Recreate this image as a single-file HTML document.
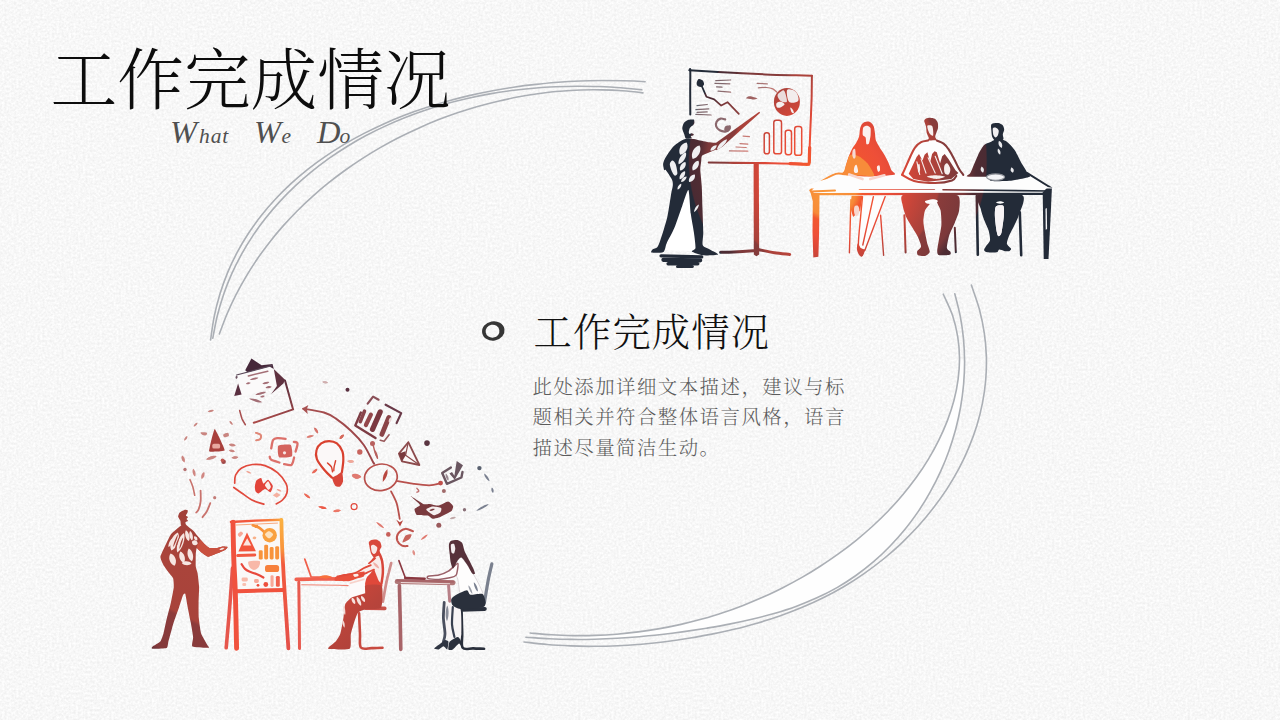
<!DOCTYPE html>
<html lang="zh-CN">
<head>
<meta charset="utf-8">
<title>工作完成情况</title>
<style>
html,body{margin:0;padding:0;}
body{width:1280px;height:720px;overflow:hidden;background:#f6f6f6;position:relative;
 font-family:"Liberation Serif","Noto Serif CJK SC",serif;}
.bg{position:absolute;left:0;top:0;width:1280px;height:720px;}
.art{position:absolute;left:0;top:0;width:1280px;height:720px;}
.title{position:absolute;left:50.5px;top:34px;margin:0;font-size:66.7px;line-height:96px;font-weight:300;color:#0d0d0d;white-space:nowrap;letter-spacing:0px;}
.sub{position:absolute;left:0;top:112px;width:400px;height:40px;margin:0;font-size:21.5px;line-height:40px;font-style:italic;font-weight:400;color:#505050;white-space:nowrap;letter-spacing:0.9px;}
.sub span{position:absolute;top:0;}
.sub b{font-weight:400;font-size:32.5px;display:inline-block;letter-spacing:0;}
.h2{position:absolute;left:533.5px;top:303.5px;margin:0;font-size:38.3px;line-height:58px;font-weight:300;color:#111;white-space:nowrap;letter-spacing:1.15px;}
.body{position:absolute;left:532.5px;top:372.5px;width:330px;margin:0;font-size:19.4px;line-height:30.5px;font-weight:300;color:#5c5c5c;letter-spacing:1.5px;}
</style>
</head>
<body>
<svg class="bg" width="1280" height="720" viewBox="0 0 1280 720">
<defs>
<filter id="paper" x="0" y="0" width="100%" height="100%" color-interpolation-filters="sRGB">
<feTurbulence type="fractalNoise" baseFrequency="0.42" numOctaves="2" seed="11" result="n"/>
<feColorMatrix type="matrix" values="0.1 0 0 0 0.92  0.1 0 0 0 0.92  0.1 0 0 0 0.92  0 0 0 0 1"/>
</filter>
</defs>
<rect width="1280" height="720" fill="#f7f7f7"/>
<rect width="1280" height="720" filter="url(#paper)"/>
</svg>
<svg class="art" width="1280" height="720" viewBox="0 0 1280 720">
<g fill="none" stroke="#abafb5" stroke-width="1.6" stroke-linecap="round">
<path fill="#fefefe" stroke="none" d="M959.5 358C959.3 361.6 959 372.2 958.1 379.3C957.2 386.3 955.8 393.3 954 400.2C952.2 407 949.9 413.9 947.4 420.6C944.8 427.3 941.9 433.9 938.7 440.3C935.5 446.8 932 453.1 928.3 459.3C924.6 465.4 920.6 471.4 916.4 477.3C912.1 483.2 907.7 488.9 903 494.4C898.4 500 893.5 505.4 888.5 510.7C883.4 515.9 878.2 521 872.8 526C867.4 530.9 861.8 535.7 856.2 540.3C850.5 544.9 844.6 549.4 838.7 553.7C832.8 557.9 826.8 562.1 820.6 566C814.5 570 808.3 573.8 802 577.4C795.7 581 789.3 584.4 782.8 587.7C776.4 591 769.8 594.1 763.2 597.1C756.6 600 749.9 602.8 743.1 605.4C736.4 608 729.6 610.5 722.7 612.7C715.9 615 708.9 617.1 702 619.1C695 621 688 622.8 681 624.4C673.9 626 666.8 627.4 659.7 628.6C652.6 629.9 645.5 631 638.3 631.9C631.1 632.8 623.9 633.6 616.7 634.2C609.5 634.8 598.7 635.2 595.1 635.4L572.1 639.4C575.9 639.4 587.2 639.4 594.7 639.2C602.2 639.1 609.6 638.8 617.1 638.3C624.5 637.9 631.9 637.4 639.4 636.7C646.8 636.1 654.2 635.3 661.6 634.5C669.1 633.6 676.5 632.6 684 631.6C691.5 630.5 699 629.4 706.5 628.2C714 626.9 721.6 625.6 729.2 624.1C736.7 622.7 744.3 621.1 751.8 619.3C759.2 617.5 766.7 615.6 774.1 613.5C781.4 611.3 788.7 609 795.9 606.4C803 603.8 810 600.9 816.9 597.8C823.8 594.7 830.5 591.3 837 587.6C843.5 583.9 849.8 579.8 855.9 575.5C862 571.2 867.9 566.6 873.6 561.7C879.3 556.9 884.7 551.7 889.9 546.3C895.1 540.9 900.1 535.3 904.8 529.5C909.6 523.7 914 517.6 918.3 511.4C922.5 505.1 926.5 498.7 930.1 492.1C933.8 485.5 937.3 478.8 940.4 471.9C943.5 465 946.4 458 948.9 450.9C951.5 443.7 953.7 436.5 955.7 429.2C957.6 421.8 959.3 414.4 960.6 407C961.9 399.5 962.9 392 963.6 384.4C964.2 376.9 964.4 365.5 964.6 361.7Z"/>
<path d="M645.1 81.7C641.5 81.5 631 81 623.8 80.8C616.7 80.6 609.5 80.5 602.2 80.5C595 80.6 587.6 80.7 580.3 81C572.9 81.3 565.5 81.7 558.1 82.3C550.7 82.9 543.3 83.5 535.9 84.4C528.4 85.2 521 86.1 513.5 87.2C506.1 88.3 498.7 89.6 491.3 91C483.9 92.4 476.5 93.9 469.1 95.6C461.8 97.3 454.5 99.2 447.2 101.2C440 103.2 432.7 105.4 425.6 107.8C418.5 110.1 411.4 112.6 404.4 115.3C397.4 118 390.5 120.9 383.7 123.9C376.9 127 370.2 130.2 363.6 133.6C357 137 350.5 140.6 344.1 144.4C337.8 148.2 331.5 152.2 325.5 156.4C319.4 160.5 313.5 164.9 307.7 169.4C302 174 296.4 178.7 291 183.7C285.7 188.6 280.5 193.7 275.5 199C270.5 204.4 265.8 209.9 261.3 215.6C256.8 221.3 252.5 227.2 248.5 233.3C244.5 239.4 240.7 245.7 237.3 252.2C233.8 258.7 230.6 265.4 227.7 272.4C224.9 279.3 222.3 286.4 220 293.7C217.8 301 215.8 308.5 214.3 316.2C212.7 323.9 211.2 336 210.6 339.9"/>
<path d="M641.8 89.8C638.3 89.4 627.7 88.3 620.6 87.7C613.5 87.2 606.3 86.8 599.1 86.5C591.9 86.3 584.6 86.1 577.3 86.2C570.1 86.2 562.8 86.4 555.5 86.7C548.2 87 540.9 87.5 533.6 88.2C526.3 88.8 518.9 89.6 511.7 90.5C504.4 91.5 497.1 92.6 489.9 93.9C482.6 95.2 475.4 96.6 468.3 98.2C461.1 99.8 454 101.6 446.9 103.6C439.8 105.5 432.8 107.7 425.9 110C418.9 112.3 412.1 114.8 405.3 117.5C398.5 120.2 391.8 123 385.2 126.1C378.5 129.1 372 132.4 365.6 135.8C359.2 139.2 352.9 142.9 346.7 146.7C340.5 150.5 334.5 154.5 328.6 158.7C322.7 163 316.9 167.4 311.3 171.9C305.7 176.5 300.2 181.3 295 186.2C289.7 191.2 284.6 196.3 279.7 201.6C274.8 206.9 270.1 212.4 265.7 218.1C261.2 223.8 256.9 229.6 252.9 235.6C248.9 241.6 245.1 247.8 241.6 254.1C238.1 260.5 234.8 267 231.8 273.7C228.9 280.4 226.1 287.2 223.7 294.2C221.3 301.2 219.1 308.4 217.3 315.7C215.5 323 213.5 334.4 212.8 338.1"/>
<path d="M642.9 92.9C639.5 92.5 629.3 91.3 622.5 90.8C615.6 90.3 608.8 90 601.9 89.9C595 89.7 588.1 89.8 581.1 90C574.2 90.3 567.3 90.7 560.3 91.3C553.4 91.8 546.5 92.6 539.5 93.5C532.6 94.5 525.7 95.6 518.8 96.8C511.9 98.1 505 99.6 498.1 101.2C491.3 102.8 484.4 104.6 477.6 106.5C470.9 108.5 464.1 110.6 457.4 112.8C450.7 115.1 444.1 117.5 437.5 120.1C430.9 122.7 424.4 125.5 418 128.4C411.5 131.3 405.1 134.3 398.9 137.5C392.6 140.7 386.4 144.1 380.2 147.6C374.1 151.1 368.1 154.8 362.2 158.6C356.3 162.4 350.5 166.4 344.8 170.5C339.1 174.6 333.5 178.8 328.1 183.2C322.6 187.6 317.3 192.1 312.1 196.8C306.9 201.4 301.8 206.2 296.9 211.2C292 216.1 287.3 221.2 282.7 226.4C278.1 231.6 273.6 237 269.4 242.4C265.1 247.9 261 253.5 257.1 259.2C253.2 265 249.4 270.8 245.9 276.8C242.3 282.8 239 288.9 235.8 295.1C232.6 301.3 229.7 307.7 226.9 314.2C224.2 320.6 220.6 330.6 219.4 333.9"/>
<path d="M943.3 294.2C944.8 297.7 950.1 308.2 952.5 315.3C954.9 322.4 956.5 329.5 957.7 336.7C958.9 343.8 959.4 350.9 959.5 358C959.6 365.1 959 372.2 958.1 379.3C957.2 386.3 955.8 393.3 954 400.2C952.2 407 949.9 413.9 947.4 420.6C944.8 427.3 941.9 433.9 938.7 440.3C935.5 446.8 932 453.1 928.3 459.3C924.6 465.4 920.6 471.4 916.4 477.3C912.1 483.2 907.7 488.9 903 494.4C898.4 500 893.5 505.4 888.5 510.7C883.4 515.9 878.2 521 872.8 526C867.4 530.9 861.8 535.7 856.2 540.3C850.5 544.9 844.6 549.4 838.7 553.7C832.8 557.9 826.8 562.1 820.6 566C814.5 570 808.3 573.8 802 577.4C795.7 581 789.3 584.4 782.8 587.7C776.4 591 769.8 594.1 763.2 597.1C756.6 600 749.9 602.8 743.1 605.4C736.4 608 729.6 610.5 722.7 612.7C715.9 615 708.9 617.1 702 619.1C695 621 688 622.8 681 624.4C673.9 626 666.8 627.4 659.7 628.6C652.6 629.9 645.5 631 638.3 631.9C631.1 632.8 623.9 633.6 616.7 634.2C609.5 634.8 602.3 635.2 595.1 635.4C587.9 635.7 580.6 635.7 573.4 635.6C566.2 635.5 558.9 635.3 551.7 634.8C544.5 634.4 533.7 633.3 530.1 633"/>
<path d="M954.8 293.8C955.7 297.6 958.8 308.7 960.2 316.2C961.7 323.7 962.7 331.3 963.5 338.9C964.2 346.5 964.5 354.1 964.6 361.7C964.6 369.3 964.2 376.9 963.6 384.4C962.9 392 961.9 399.5 960.6 407C959.3 414.4 957.6 421.8 955.7 429.2C953.7 436.5 951.5 443.7 948.9 450.9C946.4 458 943.5 465 940.4 471.9C937.3 478.8 933.8 485.5 930.1 492.1C926.5 498.7 922.5 505.1 918.3 511.4C914 517.6 909.6 523.7 904.8 529.5C900.1 535.3 895.1 540.9 889.9 546.3C884.7 551.7 879.3 556.9 873.6 561.7C867.9 566.6 862 571.2 855.9 575.5C849.8 579.8 843.5 583.9 837 587.6C830.5 591.3 823.8 594.7 816.9 597.8C810 600.9 803 603.8 795.9 606.4C788.7 609 781.4 611.3 774.1 613.5C766.7 615.6 759.2 617.5 751.8 619.3C744.3 621.1 736.7 622.7 729.2 624.1C721.6 625.6 714 626.9 706.5 628.2C699 629.4 691.5 630.5 684 631.6C676.5 632.6 669.1 633.6 661.6 634.5C654.2 635.3 646.8 636.1 639.4 636.7C631.9 637.4 624.5 637.9 617.1 638.3C609.6 638.8 602.2 639.1 594.7 639.2C587.2 639.4 579.7 639.5 572.1 639.4C564.5 639.3 556.9 639.1 549.2 638.7C541.5 638.4 529.8 637.4 525.9 637.2"/>
<path d="M971.4 285.1C972.7 289.2 977.2 301.2 979.4 309.2C981.5 317.2 983.2 325.2 984.3 333.2C985.5 341.1 986.1 349.1 986.4 356.9C986.6 364.8 986.3 372.6 985.7 380.3C985 388.1 983.9 395.8 982.4 403.3C980.9 410.9 979 418.4 976.8 425.8C974.5 433.2 971.8 440.4 968.8 447.6C965.9 454.7 962.5 461.8 958.9 468.6C955.2 475.5 951.2 482.3 947 488.9C942.7 495.4 938.1 501.9 933.3 508.1C928.5 514.3 923.4 520.4 918.1 526.3C912.7 532.1 907.1 537.8 901.4 543.3C895.6 548.7 889.6 554 883.5 559C877.3 564 870.9 568.8 864.4 573.3C857.9 577.9 851.3 582.2 844.5 586.2C837.7 590.2 830.8 594 823.7 597.5C816.7 601 809.6 604.2 802.3 607.3C795.1 610.3 787.8 613.1 780.4 615.7C773 618.3 765.4 620.7 757.9 622.9C750.3 625.1 742.7 627.2 735 629C727.4 630.9 719.7 632.6 711.9 634.1C704.2 635.7 696.4 637 688.6 638.3C680.8 639.6 672.9 640.7 665.1 641.7C657.3 642.7 649.4 643.5 641.6 644.2C633.7 644.8 625.8 645.4 618 645.7C610.1 646.1 602.2 646.3 594.4 646.3C586.5 646.4 578.7 646.3 570.8 645.9C563 645.6 555.2 645.2 547.4 644.5C539.6 643.8 527.9 642.4 524 642"/>
</g>

<path fill="#363636" fill-rule="evenodd" transform="rotate(-10 493.2 331)" d="M482.0 331.0A11.3 9.7 0 1 0 504.6 331.0A11.3 9.7 0 1 0 482.0 331.0ZM485.6 331.1A6.9 6.5 0 1 0 499.4 331.1A6.9 6.5 0 1 0 485.6 331.1Z"/>
<defs>
<radialGradient id="gt" gradientUnits="userSpaceOnUse" cx="838" cy="160" r="152" fx="828" fy="197">
<stop offset="0" stop-color="#f9993c"/>
<stop offset="0.17" stop-color="#f78a38"/>
<stop offset="0.215" stop-color="#f2572f"/>
<stop offset="0.35" stop-color="#ee4f38"/>
<stop offset="0.45" stop-color="#de4837"/>
<stop offset="0.55" stop-color="#c4453a"/>
<stop offset="0.64" stop-color="#b0433b"/>
<stop offset="0.69" stop-color="#a8413a"/>
<stop offset="0.705" stop-color="#8a3c3b"/>
<stop offset="0.85" stop-color="#7c393a"/>
<stop offset="0.89" stop-color="#5f3136"/>
<stop offset="0.915" stop-color="#4f2c33"/>
<stop offset="0.975" stop-color="#4b2b33"/>
<stop offset="0.985" stop-color="#232b38"/>
<stop offset="1" stop-color="#232b38"/>
</radialGradient>
</defs>
<g id="top-illu" fill="url(#gt)" stroke="none">
<g fill="none" stroke="url(#gt)" stroke-width="2" stroke-linecap="round" stroke-linejoin="round">
<path d="M690.3 114.4C690.3 110.5 690.2 98.5 690.2 91.2C690.2 84 690.4 74.1 690.3 70.6C690.2 67.1 689.8 70.4 689.7 70.3"/>
<path d="M689.4 70.3C694.2 70.6 705.5 71.2 718.1 71.9C730.7 72.6 752 73.8 765 74.4C778 74.9 788.4 75.1 796.2 75.3C804.1 75.5 809.3 75.7 811.9 75.8"/>
<path d="M811.9 75.8C811.8 79.7 811.8 90 811.6 99.1C811.3 108.2 810.7 121.2 810.3 130.3C809.9 139.4 809.6 148.1 809.4 153.8C809.2 159.4 809.1 162.6 809.1 164.4"/>
<path stroke-width="2.2" d="M708.8 162.5C712.9 162.6 724.4 162.7 733.8 162.8C743.1 162.9 754.6 163 765 163.1C775.4 163.3 788.9 163.5 796.2 163.8C803.6 164 806.9 164.3 809.1 164.4"/>
<path stroke-width="3.2" d="M809.7 147.5C809.6 149.1 809.5 154.2 809.4 156.9C809.2 159.6 809.9 162.6 808.8 163.8C807.6 164.9 805.6 164.1 802.5 164.1C799.4 164 792.1 163.7 790 163.6"/>
<path stroke-width="1.7" d="M701.7 85.8L706.4 96.7L714.2 99.4L721.2 105.6L727.5 102.2L738.8 113.9"/>
</g>
<path d="M696.6 83.4C696.6 82.2 697.6 79.6 698.6 79.1C699.6 78.5 701.6 79.5 702.5 80.3C703.4 81.2 704.2 83.1 704.1 84.2C703.9 85.3 702.7 86.5 701.7 86.9C700.7 87.2 699 86.8 698.1 86.2C697.3 85.7 696.5 84.6 696.6 83.4Z"/>
<g fill="none" stroke="url(#gt)" stroke-width="1.25" stroke-linecap="round" opacity="0.7">
<path d="M715.8 80.6L730.6 80"/>
<path d="M715 83.4L729.8 83.8"/>
<path d="M716.6 86.9L722 87.2"/>
<path d="M718.1 91.2L730.6 92.2"/>
<path d="M697 105.6L707.2 104.5"/>
<path d="M695.9 109.7L708.8 108.8"/>
<path d="M695.9 114.4L711.1 115"/>
<path d="M697 112.3L707.2 111.9"/>
<path d="M757.2 83.4L767.3 83.9"/>
<path d="M743.1 136.1L749.4 136.6"/>
<path d="M740 143.6L747.8 144.1"/>
<path d="M736.1 147L746.2 147.5"/>
<path d="M729.4 150.9L747.8 151.2"/>
<path d="M758.3 87.8C759.7 87.8 764.1 87.3 766.6 87.5C769 87.7 771.1 88.2 772.8 88.9C774.5 89.7 776.1 91.5 776.7 92"/>
</g>
<path opacity="0.8" d="M746.2 98.3C745.7 97.8 748.1 96.4 749.4 96.2C750.7 96.1 752.7 96.8 754.1 97.2C755.4 97.6 757.8 98.1 757.5 98.4C757.2 98.8 754.4 99.4 752.5 99.4C750.6 99.3 746.8 98.8 746.2 98.3Z"/>
<path fill="none" stroke="#8b686d" stroke-width="2.2" stroke-linecap="round" d="M725.2 119.4C724.4 119.2 721.9 118.2 720.5 118.6C719 119 717.3 120.4 716.6 121.7C715.9 123 715.7 125 716.2 126.4C716.8 127.8 718.2 129.5 719.7 130.3C721.2 131.2 723.6 131.7 725.2 131.6C726.7 131.4 728.3 130.4 729.1 129.5C729.8 128.7 729.7 126.9 729.8 126.4"/>
<path fill="#8b686d" d="M725.2 126.4C725.9 125.6 728.2 125.2 729.1 125.6C730 126 730.9 127.7 730.6 128.8C730.4 129.8 728.5 131.6 727.5 131.9C726.5 132.2 724.8 131.5 724.4 130.6C724 129.7 724.4 127.2 725.2 126.4Z"/>
<ellipse cx="786.9" cy="101.9" rx="13" ry="14" fill="url(#gt)"/>
<path fill="#eadcdc" d="M777.5 95.2C777.6 93.5 780.2 91.9 781.4 91.2C782.6 90.6 783.6 89.6 784.5 91.2C785.4 92.9 787.5 99.8 786.9 101.4C786.2 103 782.2 102 780.6 100.9C779.1 99.9 777.4 96.8 777.5 95.2Z"/>
<path fill="#f3eded" d="M786.9 90.5C787.4 88.4 790.7 89.2 792.3 89.7C794 90.2 796.1 91.7 797 93.6C798 95.5 799.4 99.6 798.1 100.9C796.8 102.3 791.1 103.6 789.2 101.9C787.3 100.1 786.4 92.5 786.9 90.5Z"/>
<path fill="#f5f0f0" d="M776.7 103C777.5 102.1 780.1 101.6 781.4 101.9C782.7 102.1 784.8 103.6 784.5 104.5C784.3 105.5 781.1 107.3 779.8 107.7C778.5 108 777.2 107.7 776.7 106.9C776.2 106.1 775.9 103.8 776.7 103Z"/>
<path fill="#f5f0f0" d="M790.3 107.7C790.5 107.2 792.2 108.8 792.8 109.7C793.4 110.6 794.1 112.7 793.9 113.1C793.7 113.6 792.2 113.3 791.6 112.3C791 111.4 790.1 108.1 790.3 107.7Z"/>
<g fill="none" stroke="url(#gt)" stroke-width="1.5" stroke-linejoin="round">
<rect x="764.2" y="132.7" width="5.2" height="21.1" rx="2.4"/>
<rect x="773.8" y="120.2" width="7.7" height="33.6" rx="2.4"/>
<rect x="785.3" y="130.3" width="6.2" height="24.4" rx="2.4"/>
<rect x="794.7" y="126.4" width="7" height="28.9" rx="2.4"/>
</g>
<path d="M753.6 163.8L758.8 163.8L759.2 254.4L756.4 256.2L753.8 254.4Z"/>
<path fill="none" stroke="url(#gt)" stroke-width="3" stroke-linecap="round" d="M720.6 252.3C722.8 252.3 728.3 252.1 733.8 251.9C739.2 251.6 750 251 753.3 250.8"/>
<path fill="none" stroke="url(#gt)" stroke-width="3" stroke-linecap="round" d="M759.1 249.7C761.6 250.2 769.3 252 774.4 252.8C779.5 253.6 787.1 254.1 789.7 254.4"/>
<path fill="#ffffff" d="M688.4 190.3L682.2 205.9L674.4 227.8L666.6 243.4L663.4 250L692.3 250.9L695.5 248.1L693.9 232.5L690.8 213.8Z"/>
<g fill="none" stroke="url(#gt)" stroke-linecap="round">
<path stroke-width="3.4" d="M661.1 255.9L701.7 256.9"/>
<path stroke-width="4.2" d="M663.4 259.8L700.2 260.3"/>
<path stroke-width="3.4" d="M668.1 263.8L697.8 263.8"/>
<path stroke-width="3" d="M677.5 266.6L692.3 266.6"/>
</g>
<path d="M682.3 127.7C682.4 126.8 683.1 123.8 683.9 122.9C684.6 122 687.4 120.2 688.5 119.8C689.7 119.4 693.1 119.2 693.8 119.6C694.4 119.9 694.4 122.3 694.4 122.9C694.3 123.6 693.5 124.8 693.1 125.2C692.8 125.6 691.9 125.9 691.5 126.2C691 126.6 689.9 127.8 689.6 128.5C689.3 129.2 688.8 131.6 688.8 132.2C688.8 132.8 689.2 133.8 689.6 134C689.9 134.1 691.4 133.3 691.9 133.3C692.4 133.4 693.6 134.1 693.8 134.4C693.9 134.6 693.3 135.4 692.9 135.6C692.6 135.8 691 135.9 690.8 136.2C690.7 136.6 692.2 138.1 691.7 138.3C691.1 138.6 686.8 139.1 685.9 138.6C685.1 138.2 684.7 135.7 684.4 134.8C684 133.9 683.1 131.5 682.8 130.6C682.6 129.8 682.2 128.6 682.3 127.7Z"/>
<path d="M685.3 139.1C683.6 139.4 680.4 141.2 679.1 142C677.7 142.9 674.8 145.1 673.6 146.2C672.4 147.4 669.9 150.8 668.9 152.2C667.9 153.6 665.7 157.1 665 158.4C664.3 159.8 663.2 162.5 663.1 163.9C663 165.3 663.9 169.4 664.2 170.2C664.5 170.9 664.9 168.9 665.8 170C666.7 171.1 671.2 177.9 672 179.7C672.9 181.5 672.9 184 672.8 185.6C672.7 187.2 671.9 189.8 671.2 193.4C670.6 197.1 668.6 211.4 667.3 216.9C666.1 222.3 661.5 236.8 660.3 240.3C659.1 243.9 658.1 246.3 657.2 247.3C656.3 248.4 653.2 248.8 652.5 249.4C651.8 250 650.3 252.2 651.6 252.5C652.8 252.8 661.7 252.9 663.4 251.9C665.2 250.8 665.3 246.2 666.6 243.4C667.8 240.6 672.6 232.2 674.4 227.8C676.2 223.4 680.5 210.3 682.2 205.9C683.8 201.5 687.4 189.1 688.4 190C689.4 190.9 690.1 208.8 690.8 213.8C691.4 218.7 693.4 228.5 693.9 232.5C694.5 236.5 695.7 245.9 695.5 248.1C695.2 250.3 691.1 250.7 691.9 251.6C692.7 252.4 699.4 255 702.5 255.3C705.6 255.7 717.2 255.2 718.1 254.5C719 253.9 712.1 250.8 710.3 249.7C708.5 248.6 703.6 247.3 702.8 245.3C702 243.3 703.3 236.7 703.3 232.5C703.2 228.3 702.7 214.5 702.5 209.1C702.3 203.6 702 190.2 701.7 185.6C701.5 181.1 700.4 172.8 700.3 170C700.3 167.2 701 163.2 701.2 161.6C701.5 159.9 701.1 156.8 702.2 155.6C703.2 154.5 708.6 152.6 710.3 151.9C712 151.1 715.9 150 716.9 149.1C717.9 148.1 720 144.4 718.9 143.6C717.8 142.8 709.4 142.4 707.2 142C705 141.7 701.7 141 700.2 140.6C698.6 140.3 695.6 139.2 693.9 139.1C692.2 138.9 687 138.7 685.3 139.1Z"/>
<path d="M714.7 143.8L759.2 111.7L760.2 112.7L722 146.9L716.2 150.3Z"/>
<path fill="#efeff1" d="M680.2 154.8C685.7 154.2 689.3 147.4 686.7 142.5C681.1 143 677.5 149.9 680.2 154.8Z"/>
<path fill="#efeff1" d="M678.6 164.2C683 163.3 687.1 156.8 686 152.5C681.7 153.3 677.6 159.9 678.6 164.2Z"/>
<path fill="#efeff1" d="M680.2 170.4C683.9 170.1 686.9 165.3 685.4 161.9C681.7 162.2 678.8 167 680.2 170.4Z"/>
<path fill="#efeff1" d="M679.7 179.2C683 178.9 686 174.5 685 171.2C681.7 171.5 678.7 176 679.7 179.2Z"/>
<path fill="#efeff1" d="M681.2 181.9C683.8 182.1 686.8 179 686.5 176.5C683.9 176.3 680.9 179.3 681.2 181.9Z"/>
<path fill="#efeff1" d="M677.6 189.6C679.8 189.2 681.8 185.9 681.2 183.8C679.1 184.2 677 187.4 677.6 189.6Z"/>
<path fill="#efeff1" d="M692.7 159C698.3 158.1 702.2 150.7 699.6 145.6C694 146.4 690.1 153.9 692.7 159Z"/>
<path fill="#efeff1" d="M692.7 170.4C696.9 170.1 700.2 164.7 698.5 160.8C694.3 161.2 691.1 166.5 692.7 170.4Z"/>
<path fill="#efeff1" d="M689.1 181.9C692.7 182.1 695.9 177.9 694.8 174.4C691.1 174.2 687.9 178.4 689.1 181.9Z"/>
<path fill="#efeff1" d="M710.4 150.6C713.2 151.1 716.7 148.1 716.7 145.2C713.8 144.7 710.3 147.8 710.4 150.6Z"/>
<path fill="#efeff1" d="M716.9 149.4C720.8 148.8 726.5 143.1 727.1 139.2C723.1 139.7 717.4 145.4 716.9 149.4Z"/>
<path fill="#efeff1" d="M669.8 164C669.9 162.7 671.6 160.6 672.4 160.6C673.2 160.6 675 162.3 675.6 164C676.3 165.7 677.5 171.8 677.4 173.3C677.3 174.9 675.4 176 674.6 175.6C673.8 175.2 672 171.8 671.4 170.2C670.7 168.7 669.7 165.2 669.8 164Z"/>
<path fill="#efeff1" d="M694.1 211.9C696.3 211 699 206.8 698.8 204.4C696.5 205.2 693.9 209.4 694.1 211.9Z"/>
<path fill="#fdfdfd" d="M810 190.5L836 174L1027 173L1051 188L1048 193.5L813 194Z"/>
<g fill="none" stroke="url(#gt)" stroke-linecap="round" stroke-linejoin="round">
<path stroke-width="2" d="M810.3 190.6C811.5 189.5 812.9 186.8 817.2 184.1C821.5 181.3 831 175.3 835.9 173.9C840.9 172.5 845.1 175.3 846.9 175.6"/>
<path stroke-width="1.6" d="M859.4 189L934.4 189"/>
<path stroke-width="1.6" d="M943 189.8L1049 191"/>
<path stroke-width="2" d="M811 191.5L835 190.5"/>
<path stroke-width="2.2" d="M814 194.2L1046 193.8"/>
<path stroke-width="2" d="M1027.3 173.1L1051.2 188"/>
</g>
<path d="M809.7 189.5L814.8 193.4L819.5 194.7L819.1 232.5L818.4 256.7L813.3 257.5L812.5 232.5L812.8 201.2Z"/>
<path d="M1042.7 192.5L1049.1 185.5L1051.9 188.3L1050.8 212.2L1048.5 258.9L1043.7 258.9L1043.2 226.3Z"/>
<path fill="#f3f3f5" d="M1045.5 208.7L1046.8 208L1047.1 229.1L1045.7 229.8Z"/>
<path d="M867.2 121.6C866 121.6 863.4 122.6 862.5 123.4C861.6 124.3 860.6 126.4 860.2 128.1C859.7 129.9 859.6 134.6 859.1 136.6C858.5 138.5 857.1 141.2 856.2 142.8C855.4 144.4 853.3 146.8 852.3 148.4C851.4 150.1 850 153.4 849.2 155.3C848.4 157.3 847.2 161.1 846.6 163.1C845.9 165.1 844.9 168.7 844.5 170.2C844.1 171.7 840.4 173.5 843.4 174.4C846.5 175.2 860.4 176.4 867.2 176.4C873.9 176.4 890.8 175.5 894.1 174.7C897.3 173.9 892.2 171.8 891.4 170.2C890.6 168.5 889.2 164.4 888.3 162.3C887.3 160.3 885.5 156.7 884.4 154.7C883.2 152.7 880.8 149.4 879.7 147.5C878.6 145.6 876.6 142.5 875.9 140.6C875.3 138.8 875.3 135.3 875 133.4C874.7 131.6 874.3 128 873.8 126.6C873.2 125.1 872 123.5 871.1 122.8C870.2 122.1 868.3 121.5 867.2 121.6Z"/>
<path fill="#f78c3a" d="M849.5 155.6C850.4 154.6 852.7 154.4 853.9 154.5C855.1 154.7 858.6 155.9 860.2 156.9C861.7 157.9 865.7 161.3 867.2 163.1C868.7 164.9 872.4 171 873.1 172.5C873.9 174 875 175.9 873.4 176.2C871.8 176.6 862.8 175.9 859.4 175.6C855.9 175.4 845.4 174.9 843.8 174.2C842.1 173.6 844.5 171.5 844.8 170.2C845.2 168.9 846.2 164.8 846.7 163.1C847.3 161.4 848.7 156.6 849.5 155.6Z"/>
<path fill="#fbf1ef" d="M863.3 127.5C863.9 126.3 866.2 125.7 867.2 125.8C868.1 125.9 870 126.9 870.5 128.1C870.9 129.4 870.7 133.3 870.6 135C870.5 136.7 869.9 139.5 869.7 140.6C869.4 141.8 869.2 143.3 868.8 143.8C868.3 144.2 866.8 144.9 866.4 144.1C866 143.2 866.1 138.7 865.6 137.5C865.1 136.3 863.1 136.3 862.8 135C862.5 133.7 862.7 128.7 863.3 127.5Z"/>
<path fill="#f6d9d3" d="M852.8 150.3C853.3 149.3 854.5 148 855 149.1C855.5 150.1 855.8 154.9 855.6 156.6C855.4 158.2 854.5 159 853.9 158.8C853.4 158.5 852.5 156.7 852.3 155.3C852.2 153.9 852.4 151.4 852.8 150.3Z"/>
<path fill="#fbf1ef" d="M854.7 166.2C855.1 165.2 856 164.2 856.6 165C857.1 165.8 858.2 169.9 858.1 171.2C858 172.6 856.6 173.1 855.9 173.1C855.2 173.1 854.1 172.4 853.9 171.2C853.7 170.1 854.2 167.3 854.7 166.2Z"/>
<path fill="#fbf1ef" d="M876.9 167C877.1 166 878.9 164.9 879.4 165.5C879.9 166 880.2 169.1 880 170.2C879.8 171.2 878.6 172.2 878.1 171.7C877.6 171.2 876.7 168.1 876.9 167Z"/>
<path fill="none" stroke="#f8d5cd" stroke-width="2.6" stroke-linecap="round" d="M849.2 174.4L862.5 179.1"/>
<path fill="none" stroke="#f8d5cd" stroke-width="2.6" stroke-linecap="round" d="M870.3 179.1L884.4 175.3"/>
<path fill="#fdfdfd" d="M835.9 176.4C839.4 175.1 844.5 175.2 846.9 175.6C849.2 176 857 179.7 859.4 180.3C861.7 180.9 867.5 181.9 870.3 181.6C873.1 181.2 884.5 177.8 887.5 177.2C890.5 176.6 897.8 175.4 900 175.6C902.2 175.9 906.1 178.9 909.4 179.5C912.7 180.2 928.4 182.2 932.8 182.2C937.2 182.2 950.2 180.1 953.1 179.5C956.1 179 959.8 176.6 962.5 176.4C965.2 176.2 975.9 177.3 979.7 177.5C983.4 177.7 992.9 177.8 1000 178.8C1007.1 179.8 1046.2 186.5 1051 187.5C1055.8 188.5 1071.9 188.4 1048 188.5C1024.1 188.6 833.2 189.7 812 188.5C790.8 187.3 832.5 177.7 835.9 176.4Z"/>
<path fill="#fdfdfd" d="M862.2 196.2L885.2 196.2L864.8 250.5L861.2 256.2L858.1 245L860.3 216.9Z"/>
<g fill="none" stroke="url(#gt)" stroke-width="1.4" stroke-linecap="round" stroke-linejoin="round">
<path d="M862.5 196.6C862.2 199.9 861.3 208.8 860.6 216.9C859.9 224.9 858.3 238.5 858.4 245C858.5 251.5 860.3 255.1 861.2 255.9C862.2 256.8 863.9 251 864.4 250"/>
<path d="M873.4 196.6L862.8 245"/>
<path d="M885.2 196.6L864.8 250.5"/>
<path d="M880.6 215.3L883.6 255.2"/>
<path d="M850.9 199.7L849.4 252.8"/>
</g>
<path d="M851.6 195.8L862.5 195.8L860.2 210.6L853.1 216.9L850.3 207.5Z"/>
<path fill="#f8d5cd" d="M854.4 206.7C855 205.4 857.3 205.2 858.1 205.9C859 206.7 859.6 209.7 859.4 211.4C859.2 213.1 857.9 215.7 857 216.1C856.2 216.5 854.8 215.3 854.4 213.8C853.9 212.2 853.8 208 854.4 206.7Z"/>
<path d="M857.8 243.4C858.5 243.2 859.8 247 860.9 248.1C862 249.2 864.1 248.7 864.4 250C864.6 251.3 863.3 255.1 862.5 255.9C861.7 256.8 860.3 256.2 859.4 255.2C858.5 254.1 857.3 251.6 857 249.7C856.8 247.7 857.2 243.7 857.8 243.4Z"/>
<path d="M924.2 121.1C924.2 120 925.2 119 926 118.6C926.8 118.1 929.1 117.7 930.2 117.7C931.4 117.8 933.9 118.2 934.9 118.8C935.9 119.5 937.3 121.3 937.7 122.5C938.1 123.7 938.2 126.7 938 128.1C937.8 129.5 936.7 131.9 936.3 133C935.9 134.2 935.1 135.9 935.2 136.8C935.2 137.8 937 139.8 936.8 140.5C936.7 141.3 934.4 142.3 933.8 142.5C933.1 142.6 932.3 141.4 931.6 141.6C931 141.8 929.4 144 928.8 143.9C928.3 143.8 927.4 141.6 927.4 140.8C927.4 140 928.9 139 928.8 138C928.7 136.9 927.1 134.5 926.7 133C926.3 131.5 926.4 128.3 926 126.7C925.7 125.1 924.2 122.2 924.2 121.1Z"/>
<path fill="#f7efee" d="M927.4 125.6C928 125.1 931.6 124.9 932.3 126.2C933.1 127.4 933.5 134 933.2 135.2C932.9 136.3 931.1 135.3 930.4 134.6C929.7 133.9 928.5 131.4 928.1 130.2C927.7 129 926.9 126.1 927.4 125.6Z"/>
<path fill="#fdfdfd" d="M928.1 140.8C926 141 922.9 141.3 921.1 142.2C919.3 143.1 916.3 145.8 914.8 147.8C913.3 149.9 911.2 154.8 909.8 157.7C908.5 160.5 906 166.7 904.9 168.9C903.9 171.2 900.9 172.9 902.1 174.5C903.3 176.1 909.7 179.7 914.1 180.9C918.5 182 930.1 183 935.2 183C940.2 182.9 948.3 181.6 952 180.4C955.8 179.3 962.3 176.1 963.3 174.5C964.2 173 960.3 171 959.1 168.9C957.8 166.8 955.5 161.7 954.1 159.1C952.7 156.4 949.9 151.3 948.5 149.2C947.1 147.2 945.2 144.8 943.6 143.6C942 142.4 938.9 140.9 936.8 140.5C934.8 140.1 930.2 140.6 928.1 140.8Z"/>
<g fill="none" stroke="url(#gt)" stroke-width="2.1" stroke-linecap="round" stroke-linejoin="round">
<path d="M928.1 140.5C927 140.8 923.3 141 921.1 142.2C918.9 143.4 916.6 145.2 914.8 147.8C912.9 150.4 911.5 154.1 909.8 157.7C908.2 161.2 906.2 166 904.9 168.9C903.6 171.8 902.6 173.8 902.1 174.8"/>
<path d="M936.8 140.5C938 141 941.6 142.1 943.6 143.6C945.5 145 946.8 146.6 948.5 149.2C950.3 151.8 952.4 155.8 954.1 159.1C955.9 162.3 957.5 166.3 959.1 168.9C960.6 171.5 962.6 173.8 963.3 174.8"/>
<path d="M902.1 174.8C904.1 175.8 908.6 179.5 914.1 180.9C919.6 182.2 928.8 183 935.2 183C941.5 182.9 948.5 181.6 952 180.4C955.5 179.3 955.5 176.7 956.3 175.9"/>
</g>
<path d="M908.7 173.8L912.4 166.1L916.6 157L919 154.1L922.5 160.5L924.6 154.8L927.4 152.3L930.2 161.9L932.1 154.1L934.5 151.3L936.8 152.3L940.1 163.3L942.2 156.3L944.7 154.1L948.5 159.1L955.5 170.3L958.4 173.1L951.3 179L928.1 181.8L913.4 179Z"/>
<g fill="none" stroke="#f7efee" stroke-width="1.1" stroke-linecap="round">
<path d="M921.1 159.1L926 173.1"/>
<path d="M928.1 157.7L935.2 173.1"/>
<path d="M935.2 156.3L942.2 173.8"/>
<path d="M916.9 161.9L919.7 174.5"/>
</g>
<path fill="#f7efee" d="M926.7 176.6C926.5 176 932.1 175.2 935.2 175.2C938.2 175.2 944.8 176 945 176.6C945.2 177.3 939.6 179 936.6 179C933.5 179 927 177.3 926.7 176.6Z"/>
<path fill="#f7efee" d="M944.3 166.1C944.7 164.5 946.1 162.8 947.1 163.3C948.1 163.8 950.1 167 950.3 168.9C950.6 170.8 949.5 173.8 948.5 174.5C947.6 175.2 945.4 174.5 944.7 173.1C944 171.7 943.9 167.7 944.3 166.1Z"/>
<path fill="#f7efee" d="M917.6 166.1C917.8 164.7 919 163.3 919.4 164C919.8 164.7 920.2 168.9 920 170.3C919.8 171.7 918.7 173.1 918.3 172.4C917.9 171.7 917.4 167.5 917.6 166.1Z"/>
<path d="M903.1 195C899.3 196.3 902.4 203.4 902.8 205.9C903.2 208.5 905.1 214.3 906.2 216.9C907.4 219.4 911.1 225.4 912.5 227.8C913.9 230.2 917 235 918 237.2C919 239.4 921.2 244.9 921.1 246.6C921 248.2 917.6 250.2 917.2 251.2C916.8 252.3 917.1 254.6 918 255.2C918.9 255.7 923.6 256.3 925 255.9C926.4 255.6 929.4 253.5 929.7 252C930 250.6 927.9 245.7 927.3 243.4C926.8 241.2 925.5 235.1 925 232.5C924.5 229.9 923.4 224.1 923.4 221.6C923.4 219 924.2 212.7 925 210.6C925.8 208.5 929.2 204.7 930.5 203.6C931.7 202.5 935.3 202.3 935.9 201.2C936.6 200.2 939.8 195.7 935.9 195C932.1 194.3 907 193.7 903.1 195Z"/>
<path d="M936.2 195C933.8 195.9 937 201.8 937.5 203.6C938 205.4 940.2 208.2 940.6 210.6C941.1 213.1 941.6 221.4 941.4 224.7C941.2 228 939.6 235.7 939.1 238.8C938.6 241.8 937.2 249.3 937.2 251.2C937.2 253.2 937.6 254.8 939.1 255.2C940.6 255.6 948.7 255.1 950 254.7C951.3 254.3 950.7 252.3 950.3 251.6C949.9 250.8 947 250 946.9 248.1C946.7 246.3 948.3 238.5 949.2 235.6C950.1 232.7 953.5 226 954.7 223.1C955.8 220.2 958.7 213.8 959.1 210.6C959.5 207.4 960.8 197.6 958.1 195.8C955.5 194 938.7 194.1 936.2 195Z"/>
<path fill="#fdfdfd" d="M925 201.2C925.5 200.5 929.2 199.5 931.2 199.4C933.3 199.2 936.7 199.8 937.5 200.5C938.3 201.1 937.5 202.6 935.9 203.1C934.4 203.7 929.9 204.1 928.1 203.8C926.3 203.4 924.5 202 925 201.2Z"/>
<g fill="none" stroke="url(#gt)" stroke-width="2" stroke-linecap="round">
<path d="M904.4 215.3L905.6 252.5"/>
<path d="M954.8 227.8L955.8 252.2"/>
</g>
<path d="M991.1 125C991.4 124 992.5 123.6 993.5 123.3C994.5 123.1 997.2 122.8 998.4 123.1C999.7 123.3 1001.9 124.5 1002.7 125.3C1003.4 126.2 1004.2 128.3 1004.2 129.5C1004.2 130.8 1002.9 133.2 1002.8 134.5C1002.7 135.7 1003.7 137.8 1003.5 138.7C1003.3 139.6 1002.4 140.6 1001.5 141.1C1000.7 141.5 998 142.3 997 142.2C996.1 142.1 994.9 140.8 994.2 140.1C993.6 139.3 992.5 137.8 992.1 136.6C991.7 135.3 991.5 132.5 991.4 130.9C991.3 129.4 990.8 126 991.1 125Z"/>
<path fill="#f1eff1" d="M992.8 128.4C993.1 127.4 994.8 127.3 995.6 127.6C996.4 127.8 998.4 129.4 998.7 130.4C999 131.4 998.3 134.2 997.9 135.2C997.5 136.1 996.2 137.4 995.6 137.4C995 137.4 993.9 136.4 993.5 135.2C993.1 134 992.5 129.4 992.8 128.4Z"/>
<path d="M995.6 139.4C994.1 139.6 991.3 141.6 990 142.2C988.7 142.8 985.6 143.6 984.4 144.7C983.1 145.9 980.6 149.9 979.5 152C978.3 154.2 975.6 160.8 974.5 163.3C973.5 165.7 971.2 171.6 970.3 173.1C969.5 174.7 965.3 176.2 967.2 176.6C969.2 177.1 984.4 176.6 987.2 177.1C990 177.6 988.5 180.6 991.4 181C994.4 181.4 1008 180.9 1012.5 180.4C1017 179.9 1027.9 177.7 1029.7 176.8C1031.4 175.8 1028.3 174.2 1027.3 172.4C1026.3 170.7 1022.4 164.5 1020.9 161.9C1019.5 159.3 1016.1 152.1 1014.6 149.9C1013.1 147.7 1009.6 144 1008.3 142.9C1007 141.7 1004.8 140.5 1003.4 140.1C1001.9 139.7 997.2 139.1 995.6 139.4Z"/>
<path fill="#e9e9ec" d="M998.9 140.8Q997.2 145.7 1001.8 148.1Q1003.5 143.2 998.9 140.8Z"/>
<path fill="#e9e9ec" d="M998 148.5Q996.6 152.5 1000.1 154.8Q1001.5 150.9 998 148.5Z"/>
<path fill="#e9e9ec" d="M981.6 166.4Q979.1 170.3 983 172.8Q985.4 168.9 981.6 166.4Z"/>
<path fill="#e9e9ec" d="M1011.5 167.2Q1009.1 170.8 1012.9 172.8Q1015.3 169.3 1011.5 167.2Z"/>
<ellipse cx="995.6" cy="177.1" rx="9" ry="3.2" fill="#f4f4f6" stroke="#8f9299" stroke-width="1.2"/>
<path fill-rule="evenodd" d="M978.8 194.6C973.9 196.3 980.2 206.3 980.9 209.4C981.5 212.4 983.5 218.2 984.4 220.6C985.3 223.1 987.9 228.2 988.6 230.5C989.3 232.8 990.3 238.4 990 240.3C989.7 242.2 986.5 245.5 985.8 246.6C985.1 247.8 983.9 249.5 984.1 250.2C984.3 250.8 985.7 252 987.2 252.3C988.7 252.5 995.6 252.6 997 252.3C998.4 251.9 998.3 249.6 999.1 249.5C1000 249.3 1002.9 250.6 1004.1 250.9C1005.2 251.1 1008.2 251.5 1009 251.3C1009.8 251 1011.3 249.6 1011.1 248.8C1010.8 247.9 1007.1 245.3 1006.9 243.8C1006.6 242.4 1008.2 238.1 1009 236.1C1009.8 234 1012.8 228.7 1013.9 226.3C1015.1 223.8 1017.8 218.6 1018.8 215C1019.8 211.4 1027 197.7 1022.3 195.3C1017.7 192.9 983.6 193 978.8 194.6ZM995.9 206.6C996.9 205.3 1002.4 204.7 1003.4 205.9C1004.3 207 1004 213.2 1003.8 216.4C1003.5 219.6 1001.9 231 1001.3 233.3C1000.6 235.6 999 236.3 998.4 236.1C997.9 235.9 997.2 234.2 996.8 231.9C996.3 229.6 995 219.4 994.9 216.4C994.8 213.5 994.9 207.8 995.9 206.6Z"/>
<path fill="#f7f3f5" d="M995.9 206.6C996.9 205.3 1002.4 204.7 1003.4 205.9C1004.3 207 1004 213.2 1003.8 216.4C1003.5 219.6 1001.9 231 1001.3 233.3C1000.6 235.6 999 236.3 998.4 236.1C997.9 235.9 997.2 234.2 996.8 231.9C996.3 229.6 995 219.4 994.9 216.4C994.8 213.5 994.9 207.8 995.9 206.6Z"/>
<path fill="#fdfdfd" d="M995.9 202.6C995.9 202.2 998.5 201.3 999.8 201.2C1001.2 201.2 1004 201.9 1004.1 202.3C1004.1 202.8 1001.5 203.7 1000.1 203.8C998.8 203.8 996 203 995.9 202.6Z"/>
<g fill="none" stroke="url(#gt)" stroke-width="2.6" stroke-linecap="round">
<path d="M976.8 196L977.8 254.7"/>
<path d="M1019.8 212.2L1021.2 255.2"/>
</g>
</g>
<defs>
<linearGradient id="gman" gradientUnits="userSpaceOnUse" x1="222" y1="520" x2="150" y2="668">
<stop offset="0" stop-color="#a03f39"/><stop offset="0.35" stop-color="#aa443b"/><stop offset="0.62" stop-color="#a8433b"/><stop offset="0.64" stop-color="#8c3b3b"/><stop offset="0.86" stop-color="#843a3b"/><stop offset="0.88" stop-color="#6d3338"/><stop offset="1" stop-color="#6d3338"/>
</linearGradient>
<linearGradient id="gpost" gradientUnits="userSpaceOnUse" x1="0" y1="520" x2="0" y2="650">
<stop offset="0" stop-color="#fbb040"/><stop offset="0.22" stop-color="#f9953c"/><stop offset="0.34" stop-color="#f25a3e"/><stop offset="1" stop-color="#e4504a"/>
</linearGradient>
<linearGradient id="gease" gradientUnits="userSpaceOnUse" x1="230" y1="0" x2="284" y2="0">
<stop offset="0" stop-color="#f0523e"/><stop offset="0.5" stop-color="#f45c3c"/><stop offset="0.8" stop-color="#f88a3c"/><stop offset="1" stop-color="#fbb040"/>
</linearGradient>
<linearGradient id="genv" gradientUnits="userSpaceOnUse" x1="0" y1="362" x2="0" y2="425">
<stop offset="0" stop-color="#46283a"/><stop offset="0.45" stop-color="#6a3540"/><stop offset="1" stop-color="#b04c4a"/>
</linearGradient>
<linearGradient id="garr" gradientUnits="userSpaceOnUse" x1="300" y1="0" x2="380" y2="0">
<stop offset="0" stop-color="#a85050"/><stop offset="1" stop-color="#9a4448"/>
</linearGradient>
<linearGradient id="gmid" gradientUnits="userSpaceOnUse" x1="330" y1="580" x2="390" y2="650">
<stop offset="0" stop-color="#d8473a"/><stop offset="0.5" stop-color="#b8443b"/><stop offset="1" stop-color="#a8403a"/>
</linearGradient>
</defs>
<g id="bot-illu">
<path fill="url(#gman)"  d="M178.1 516.7C178.1 515.8 179.1 513.2 179.7 512.5C180.3 511.8 183.6 510.1 184.4 509.9C185.2 509.7 187.4 510.1 187.7 510.4C188 510.7 187.5 512.5 187.3 513C187.1 513.5 185.9 515.2 185.9 515.6C186 516 188 516.9 188 517.2C188.1 517.5 186.4 518.6 186.5 519C186.5 519.3 188.2 520.5 188.1 520.8C188 521.2 185.6 522.1 185.4 522.5C185.2 522.9 185.9 524.2 186 524.6C186.2 525 187.8 526.1 187.3 526.2C186.8 526.4 181.9 526.4 181.2 525.8C180.6 525.3 180.7 521.8 180.4 520.8C180.1 519.9 178.2 517.5 178.1 516.7Z"/>
<path fill="url(#gman)"  d="M181.2 525.5C180.3 525.8 176.9 528.9 176 529.7C175.2 530.4 171.7 533.1 170.8 534.4C170 535.6 166.5 542.9 165.6 544.8C164.8 546.7 160.6 555.1 160.4 556.8C160.2 558.5 162.7 563.7 163.4 565C164.1 566.3 168.1 571.7 168.9 572.8C169.7 573.9 172.7 577.1 173.1 578.3C173.5 579.5 173.9 584.9 173.8 586.9C173.6 588.9 171.5 599.9 170.9 602.5C170.4 605.1 167.5 615.5 166.9 618.1C166.2 620.7 164 631.8 163.4 633.8C162.9 635.7 161.2 640.5 160.3 641.6C159.4 642.7 152.8 646.3 152.2 646.9C151.5 647.5 151.3 648.6 152.5 648.8C153.7 648.9 165.2 648.7 166.6 648.1C167.9 647.5 167.9 643.7 168.4 641.6C169 639.5 172.7 625.7 173.6 622.8C174.5 619.9 178.3 609.5 179.1 607.2C179.9 604.9 182.6 596.1 183.1 595C183.6 593.9 184.9 592.9 185.3 593.9C185.7 594.9 187.2 604.8 187.7 607.2C188.1 609.6 190.3 620.3 190.8 622.8C191.2 625.3 193 634.9 193.1 636.9C193.3 638.9 191.2 645.7 192.5 646.6C193.8 647.5 207.5 648 208.8 647.8C210 647.7 207.8 645.9 207.2 644.7C206.6 643.5 202 636 201.2 633.8C200.5 631.5 199 620.7 198.8 618.1C198.5 615.5 198.6 605.1 198.6 602.5C198.6 599.9 199.2 589.3 199.1 586.9C199 584.4 197.8 574.5 197.5 572.8C197.2 571.1 196 568.2 195.8 566.7C195.7 565.1 195.7 555.7 195.8 554.2C195.9 552.6 196.4 548.2 196.9 548.1C197.4 548 201.1 552.4 202.1 553.1C203 553.8 207.1 556.7 208.3 556.8C209.5 556.8 215.3 554.2 216.7 553.6C218.1 553.1 224.1 550.6 225 550C225.9 549.4 227.8 547.2 227.6 546.9C227.4 546.6 223.8 546.3 222.9 546.4C222 546.4 217.8 547.8 216.7 547.9C215.5 548 210.4 548.3 209.4 547.9C208.3 547.6 205 544.6 204.2 543.8C203.3 542.9 199.8 538.5 199 537.5C198.1 536.5 194.7 532.2 193.8 531.2C192.8 530.3 188.3 526.5 187.3 526C186.3 525.6 182.2 525.2 181.2 525.5Z"/>
<path fill="#c9503f"  d="M197.1 545.8C196.8 546.5 196.5 547.5 196.9 548.1C197.3 548.7 201.1 552.4 202.1 553.1C203 553.8 207.1 556.7 208.3 556.8C209.5 556.8 215.3 554.2 216.7 553.6C218.1 553.1 224.1 550.6 225 550C225.9 549.4 227.8 547.2 227.6 546.9C227.4 546.6 223.8 546.3 222.9 546.4C222 546.4 217.8 547.8 216.7 547.9C215.5 548 210.4 548.3 209.4 547.9C208.3 547.6 204.9 544.4 204.2 543.8C203.4 543.1 201.1 539.9 200.5 540.1C199.9 540.3 197.4 545.2 197.1 545.8Z"/>
<path fill="#f6e6e2" d="M168.5 547.1C171 545.9 173.3 541 172.7 538.3C170.2 539.5 167.9 544.4 168.5 547.1Z"/>
<path fill="#f6e6e2" d="M171.4 550.5C177.2 548.2 180.9 538.1 177.9 532.5C172 534.8 168.3 544.9 171.4 550.5Z"/>
<path fill="#f6e6e2" d="M177.3 552.6C182.2 549.5 186 538.6 184 533.1C179 536.2 175.3 547.1 177.3 552.6Z"/>
<path fill="#f6e6e2" d="M185.9 530.2C184.1 533.3 185.6 539.4 188.8 541.1C190.6 538.1 189.1 532 185.9 530.2Z"/>
<path fill="#f6e6e2" d="M190.1 531C188.4 533.5 189.5 538.8 192.1 540.4C193.8 537.9 192.6 532.7 190.1 531Z"/>
<path fill="#f6e6e2" d="M170.6 553.6C167.6 557.6 169.8 564.4 174.6 565.8C177.6 561.9 175.4 555.1 170.6 553.6Z"/>
<path fill="#f6e6e2" d="M180.4 551.6C177.8 555 179.7 561.5 183.8 563C186.3 559.5 184.5 553.1 180.4 551.6Z"/>
<path fill="#f6e6e2" d="M188.8 548.4C186.1 552.1 187.8 559.2 191.9 561.2C194.5 557.6 192.8 550.4 188.8 548.4Z"/>
<path fill="#f6e6e2" d="M181.8 562.9C183.7 565.6 189.2 566 191.5 563.5C189.5 560.8 184.1 560.5 181.8 562.9Z"/>
<path fill="#f6e6e2" d="M191.9 541.7C192 545.4 195.3 546.5 197.7 543.8C197.6 540 194.3 538.9 191.9 541.7Z"/>
<path fill="#f6e6e2" d="M194.3 536.2C193.3 538.3 194.9 540.6 197.1 540.4C198.1 538.4 196.5 536.1 194.3 536.2Z"/>
<path fill="#f6e6e2" d="M219.3 549.8Q222.5 550.9 224.5 548.1Q221.3 547.1 219.3 549.8Z"/>
<path  fill="#a8443b" d="M173.1 546.9C175.1 544.5 177.8 537.5 177.9 534.4C176 536.8 173.3 543.8 173.1 546.9Z"/>
<path  fill="#a8443b" d="M175 549C176.9 546.4 179.6 539.1 179.7 535.9C177.8 538.5 175.1 545.8 175 549Z"/>
<path  fill="#a8443b" d="M179.4 549C181.1 546.7 183.2 540.3 183.1 537.5C181.4 539.7 179.3 546.1 179.4 549Z"/>
<path opacity="0.85" fill="#c9736d" d="M182.2 455.5C181 457.6 182.3 461.5 184.5 462.5C185.7 460.4 184.4 456.4 182.2 455.5Z"/>
<path opacity="0.85" fill="#c9736d" d="M193.1 468.8C191.8 470.9 192.8 475.3 195 476.6C196.3 474.4 195.3 470 193.1 468.8Z"/>
<path opacity="0.85" fill="#c9736d" d="M201.7 478.9C204.1 478 205.4 474 204.1 471.9C201.7 472.8 200.4 476.8 201.7 478.9Z"/>
<path opacity="0.85" fill="#c9736d" d="M206.4 459.4C209.2 460.5 214.9 458.8 216.6 456.2C213.8 455.1 208.1 456.9 206.4 459.4Z"/>
<path opacity="0.85" fill="#c9736d" d="M231.4 457.8C233.1 459.2 237.1 458.8 238.4 457C236.7 455.7 232.8 456.1 231.4 457.8Z"/>
<path fill="none" stroke="#c9736d" stroke-width="1.6" stroke-linecap="round" stroke-linejoin="round"  d="M190 479.7C190.5 480.9 192 484.1 192.8 486.7C193.6 489.3 194.4 493.9 194.7 495.3"/>
<path fill="none" stroke="#c9736d" stroke-width="1.8" stroke-linecap="round" stroke-linejoin="round"  d="M200.6 490.6C200.6 492.4 201 498.4 200.6 501.6C200.3 504.7 199.3 507.6 198.6 509.4C197.9 511.2 196.6 512 196.2 512.5"/>
<path fill="none" stroke="#c9736d" stroke-width="1.8" stroke-linecap="round" stroke-linejoin="round"  d="M210.3 503.1C209.7 504.5 208.2 508.9 206.9 511.2C205.6 513.6 203.2 516.2 202.5 517.2"/>
<circle cx="185" cy="469.5" r="1.7" fill="#b87474"/>
<circle cx="214.7" cy="497.7" r="1.6" fill="#c47c78"/>
<circle cx="223.6" cy="461.7" r="2.3" fill="#a04a4a"/>
<path fill="#faf8f7"  d="M233.4 523.4L281.4 520.6L282.5 589.7L237.2 591.2Z"/>
<path fill="none" stroke="#e6564c" stroke-width="3.6" stroke-linecap="round" stroke-linejoin="round"  d="M232.5 568.1C232.1 574.4 230.9 592.3 229.8 605.6C228.8 618.9 226.8 640.8 226.2 647.8"/>
<path fill="none" stroke="#f0523e" stroke-width="4.9" stroke-linecap="round" stroke-linejoin="round"  d="M233 522.2C233.1 528.3 233.4 547.2 233.8 558.8C234.1 570.3 234.8 576.6 235.3 591.6C235.8 606.5 236.4 639 236.6 648.4"/>
<path fill="none" stroke="url(#gease)" stroke-width="2.4" stroke-linecap="round" stroke-linejoin="round"  d="M230.9 522L255.6 520.6L281.4 519.8"/>
<path fill="none" stroke="url(#gpost)" stroke-width="3.8" stroke-linecap="round" stroke-linejoin="round"  d="M281.4 519.8C281.5 523.2 281.6 532.7 281.9 540C282.1 547.3 282.5 555.1 283 563.4C283.4 571.8 283.6 575.8 284.5 590C285.4 604.2 287.8 638.7 288.4 648.4"/>
<path fill="none" stroke="#f0523e" stroke-width="4" stroke-linecap="round" stroke-linejoin="round"  d="M236.9 591.2L260.3 590.6L283.8 590"/>
<path fill="none" stroke="#f25a42" stroke-width="3" stroke-linecap="round" stroke-linejoin="round"  d="M237.7 555.6L254.8 555"/>
<path fill="none" stroke="#f8a070" stroke-width="0.9" stroke-linecap="round" stroke-linejoin="round"  d="M236.1 525L277.5 523.1"/>
<path fill="#f2553c"  d="M238.4 551.6L247 532.5L255.9 551.2Z"/>
<path fill="#fbe6e0"  d="M243.1 545.6L247.2 538.3L251.2 545.6Z"/>
<path fill="#f8a898"  d="M237.8 534.4C237.9 533.7 240.1 531.7 240.8 531.6C241.5 531.5 243.2 532.9 243.1 533.6C243 534.3 240.7 536.8 240 536.9C239.3 537 237.7 535.1 237.8 534.4Z"/>
<path fill="none" stroke="#f7923c" stroke-width="2.6" stroke-linecap="round" stroke-linejoin="round"  d="M252.8 525.3C253.8 525.7 256.9 526.5 258.8 527.5C260.6 528.5 262.9 530.9 263.8 531.6"/>
<path  fill="#f7923c" d="M254.8 527.8C256.8 528.6 258.6 527 258 525C256 524.2 254.2 525.8 254.8 527.8Z"/>
<circle cx="269.7" cy="535.2" r="7.2" fill="#f9a13f"/>
<path fill="#fce3c0"  d="M265 534.4C265 533.4 267.8 531.2 268.9 531.2C270 531.2 273.1 533.4 273.1 534.4C273.1 535.3 270.1 538.4 269.1 538.4C268 538.4 265 535.3 265 534.4Z"/>
<path  fill="#f8b088" d="M252.5 538.3C253.7 540 255.9 539.6 256.4 537.5C255.2 535.8 253 536.2 252.5 538.3Z"/>
<rect x="258.8" y="550.2" width="3.9" height="9.4" rx="1.4" fill="#f8933c"/>
<rect x="264.2" y="544.7" width="3.9" height="14.8" rx="1.4" fill="#f8933c"/>
<rect x="269.7" y="547" width="3.9" height="12.5" rx="1.4" fill="#f8933c"/>
<rect x="275.2" y="546.2" width="3.9" height="13.3" rx="1.4" fill="#f8933c"/>
<rect x="265" y="565" width="14.1" height="7" rx="2.6" fill="#f7803c"/>
<path fill="#f8b8a8"  d="M248.6 561.6C249.9 560.7 258.2 560.4 259.5 561.1C260.9 561.8 259.5 565.7 258.8 566.9C258 568.1 255.3 569.9 254.1 570C252.9 570.1 250.4 568.5 249.7 567.3C249 566.2 247.3 562.4 248.6 561.6Z"/>
<path fill="none" stroke="#e8483c" stroke-width="2.2" stroke-linecap="round" stroke-linejoin="round"  d="M241.6 564.2C242.1 565 243.7 567.7 245 568.9C246.3 570.1 247.5 570.7 249.4 571.6C251.3 572.4 254.1 573.1 256.4 574.1C258.8 575.1 262.3 576.9 263.4 577.5"/>
<rect x="241.6" y="577.5" width="6.2" height="3.9" rx="1.4" fill="#f8b8a8"/>
<rect x="242.3" y="583" width="3.9" height="3.1" rx="1.4" fill="#f8c0b0"/>
<rect x="254.1" y="579.1" width="4.7" height="3.9" rx="1.4" fill="#f8a898"/>
<rect x="270.5" y="575.2" width="3.1" height="11.7" rx="1.4" fill="#f8a898"/>
<rect x="275.9" y="575.9" width="3.9" height="10.9" rx="1.4" fill="#f0604c"/>
<circle cx="258" cy="585.3" r="1.4" fill="#ee4f3c"/>
<circle cx="265.8" cy="584.5" r="2.4" fill="#ee4f3c"/>
<path fill="none" stroke="#f0604f" stroke-width="3.6" stroke-linecap="round" stroke-linejoin="round"  d="M296.2 579.4L329.4 578.8L348.4 579.4"/>
<path fill="none" stroke="#f08070" stroke-width="1.1" stroke-linecap="round" stroke-linejoin="round"  d="M301.7 584.8L338.8 585.3L348.1 585.6"/>
<path fill="none" stroke="#e85a4f" stroke-width="3" stroke-linecap="round" stroke-linejoin="round"  d="M298.8 582.2L299.2 615L299.5 648.4"/>
<path fill="none" stroke="#f0604c" stroke-width="1.7" stroke-linecap="round" stroke-linejoin="round"  d="M304.8 559.1L311.1 576.9L331.4 577.5"/>
<path fill="#f8703c"  d="M320 576.2C320.8 575.9 324.7 575.2 326.2 575.3C327.8 575.4 331.7 576.5 331.7 576.9C331.7 577.3 327.8 578.3 326.2 578.4C324.7 578.6 320.8 578.4 320 578.1C319.2 577.8 319.2 576.6 320 576.2Z"/>
<path fill="none" stroke="#d08c8a" stroke-width="2.7" stroke-linecap="round" stroke-linejoin="round"  d="M391.2 563.1C390.8 564.7 389.5 569.4 388.8 572.5C388 575.6 387.4 577 386.5 581.9C385.5 586.7 383.5 598.4 382.9 601.7"/>
<path fill="none" stroke="#c85048" stroke-width="3.6" stroke-linecap="round" stroke-linejoin="round"  d="M365.6 608.3L384.8 608.4"/>
<path fill="none" stroke="#c84a40" stroke-width="2.6" stroke-linecap="round" stroke-linejoin="round"  d="M359.1 613.4C359.2 616.8 359.7 628.1 360 633.8C360.3 639.4 359 645.1 360.9 647.5C362.9 649.9 368 648.1 371.6 648.1C375.2 648.2 380.7 647.9 382.5 647.8"/>
<path fill="#f9edea"  d="M374 557.4C373.1 558.3 371.9 564.1 370.8 565.2C369.8 566.3 365 567.6 363.5 568.3C362.1 569.1 357.3 571.8 356.2 572.5C355.2 573.2 352.6 574.6 352.9 575C353.2 575.4 358 576.2 359.4 576C360.8 575.8 365.2 573.5 366.7 572.9C368.1 572.3 372.9 569.4 374 569.8C375 570.2 376.6 575.3 377.1 576.7C377.6 578 378.7 582.7 379.2 583.1C379.6 583.5 381.5 582.2 381.9 580.8C382.2 579.5 382.5 571.4 382.5 569.4C382.5 567.4 381.8 562.4 381.5 561C381.1 559.7 380.1 556.2 379.4 555.8C378.6 555.5 374.8 556.5 374 557.4Z"/>
<path fill="#e0483a"  d="M374.2 569.9C373.5 569.5 371.6 572.2 370.8 573C370.1 573.8 367.2 576.6 366.7 577.7C366.1 578.8 365.1 583 365.1 584C365.1 584.9 365 586.8 366.7 587.1C368.3 587.3 380.4 586.9 381.9 586.6C383.4 586.2 381.8 584.5 381.5 584C381.1 583.4 379.2 581.6 378.8 580.8C378.3 580.1 377.5 577.8 377.1 576.7C376.6 575.6 374.8 570.3 374.2 569.9Z"/>
<path fill="url(#gmid)"  d="M381.7 586.1C380.3 583.8 369.1 584.6 366.9 585C364.6 585.4 360.6 588.7 359.1 590C357.5 591.3 352.6 596.4 351.2 597.8C349.9 599.2 346.1 602 345.3 604.1C344.5 606.1 343.9 615.2 343.4 618.1C342.9 621.1 341.1 631.4 340.3 633.8C339.5 636.1 336.8 640.2 335.6 641.6C334.5 642.9 329.2 646.8 328.6 647.5C328 648.2 327.3 648.9 329.4 649.1C331.5 649.2 347.5 650.3 349.7 648.8C351.8 647.2 350.2 637.3 350.9 633.8C351.7 630.2 355.9 615.9 357.5 613.4C359.1 611 364.5 609.7 366.9 609.1C369.2 608.5 379.8 609.8 381.2 607.5C382.7 605.2 383.2 588.3 381.7 586.1Z"/>
<path fill="#fdfafa"  d="M349.6 582.4L364.6 578.3L365.2 593.3L349.6 598.1Z"/>
<path fill="#f8d2ca"  d="M349.6 582.4L364.6 578.3L364.6 580L349.6 584.2Z"/>
<path fill="#f6e2de" d="M351.9 597.7C350.8 600 352.6 603.5 355 604C356.1 601.7 354.3 598.2 351.9 597.7Z"/>
<path fill="#f6e2de" d="M356.8 596.7C355.8 599.6 358.2 604.7 361 605.8C362 602.9 359.6 597.8 356.8 596.7Z"/>
<path fill="#f6e2de" d="M361.2 596C360.4 598.4 362.4 601.6 364.9 601.9C365.7 599.6 363.7 596.3 361.2 596Z"/>
<path fill="#f3dcd8" d="M343.4 605.6Q342.2 610.8 345 615.3Q346.3 610.1 343.4 605.6Z"/>
<path fill="#f3dcd8" d="M342.8 619.7Q341.6 624.1 344.4 627.8Q345.6 623.4 342.8 619.7Z"/>
<path fill="#e8503c"  d="M335.4 576.9C336.2 576.2 341.7 574.6 343.8 574.2C345.8 573.8 354.2 573 356.2 572.7C358.3 572.4 363.6 571.1 364.4 571.5C365.1 571.8 364.6 575.7 363.8 576.5C362.9 577.2 357.7 578.3 356.2 578.8C354.8 579.2 351.7 580.8 349.6 581C347.5 581.2 336.8 581.2 335.4 580.8C334 580.4 334.6 577.5 335.4 576.9Z"/>
<path fill="#fbeeea"  d="M353.1 574.6C353.4 574.2 356.6 573.6 357.3 573.8C358 573.9 359.2 575.5 359 575.8C358.7 576.2 355.5 577.1 354.8 577C354.1 576.8 352.8 575 353.1 574.6Z"/>
<path fill="none" stroke="#e04a3a" stroke-width="1.8" stroke-linecap="round" stroke-linejoin="round"  d="M370.8 565.2C369.6 565.7 366 567.1 363.5 568.3C361.1 569.5 359.2 571.4 356.2 572.5C353.3 573.6 349 574.3 345.8 574.9C342.7 575.5 338.9 576.1 337.5 576.4"/>
<path fill="none" stroke="#e04a3a" stroke-width="1.8" stroke-linecap="round" stroke-linejoin="round"  d="M374 569.6C372.7 570.1 369.1 571.8 366.7 572.8C364.2 573.8 360.6 575.1 359.4 575.5"/>
<path fill="none" stroke="#d8463a" stroke-width="2.5" stroke-linecap="round" stroke-linejoin="round"  d="M380 554.8C380.3 555.8 381.6 558.6 382.1 561C382.6 563.5 382.8 566.8 382.9 569.4C383 572 382.8 574.2 382.5 576.7C382.2 579.1 381.5 582.7 381.4 584"/>
<path  fill="#f0b0a8" d="M373.1 562.3C373.2 564.8 376.6 568.3 379.2 568.5C379 566 375.7 562.5 373.1 562.3Z"/>
<path fill="#dc483a"  d="M374 557.1C373.5 557.3 372 559.4 371.4 560C370.8 560.6 368.1 562.9 367.9 563.3C367.7 563.7 368.8 564.3 369.4 564.1C370 563.8 373.3 561.2 374 560.6C374.6 560 376.2 558.5 376.2 558.1C376.2 557.8 374.4 556.9 374 557.1Z"/>
<path fill="#d8483b"  d="M368.8 542.5C368.9 541.9 370 540.5 370.8 540.2C371.7 539.9 374.9 539.4 376 539.6C377.1 539.8 379.6 541.3 380.2 542.1C380.8 542.9 381.5 545.5 381.5 546.5C381.4 547.5 379.7 549.6 379.6 550.6C379.5 551.7 381 554.7 380.7 555.3C380.5 555.9 378.4 555.8 377.6 556C376.8 556.3 374.7 557.6 374 557.4C373.2 557.2 371.8 555.2 371.4 554.3C370.9 553.4 370.2 550.6 370 549.6C369.8 548.6 369.4 546.2 369.3 545.4C369.1 544.6 368.6 543.1 368.8 542.5Z"/>
<path fill="#f8e8e5"  d="M371 546C371.3 545.3 373.2 544.7 374 544.9C374.7 545.1 377 546.6 377.3 547.5C377.6 548.4 376.7 551.4 376.2 552.2C375.8 553 374.3 554.1 373.8 554.1C373.2 554 372 552.6 371.7 551.7C371.4 550.7 370.8 546.8 371 546Z"/>
<path fill="none" stroke="#b07878" stroke-width="5" stroke-linecap="round" stroke-linejoin="round"  d="M397.2 581.6L453.1 582.8"/>
<path fill="none" stroke="#a86468" stroke-width="2.2" stroke-linecap="round" stroke-linejoin="round"  d="M397.2 580.5L453.1 581.7"/>
<path fill="none" stroke="#f3e4e4" stroke-width="0.9" stroke-linecap="round" stroke-linejoin="round"  d="M401.2 582.5L449.7 583.8"/>
<path fill="none" stroke="#a86468" stroke-width="3.6" stroke-linecap="round" stroke-linejoin="round"  d="M399.4 585.6L400.2 618.1L400.8 649.4"/>
<path fill="none" stroke="#b88088" stroke-width="3" stroke-linecap="round" stroke-linejoin="round"  d="M448.6 585.6L449.7 601.2"/>
<path fill="none" stroke="#8a3840" stroke-width="1.6" stroke-linecap="round" stroke-linejoin="round"  d="M398.9 560.6L405.2 577.5"/>
<path fill="none" stroke="#8a3840" stroke-width="2.4" stroke-linecap="round" stroke-linejoin="round"  d="M405.2 578L424.7 578.8"/>
<path fill="none" stroke="#7a808e" stroke-width="3.2" stroke-linecap="round" stroke-linejoin="round"  d="M491.9 563.8C491.3 566.3 489.7 572.6 488.4 579.1C487.2 585.5 485.1 598.6 484.4 602.5"/>
<path fill="none" stroke="#2a303c" stroke-width="4" stroke-linecap="round" stroke-linejoin="round"  d="M461.4 609.8L484.8 608.9"/>
<path fill="none" stroke="#2a303c" stroke-width="2.6" stroke-linecap="round" stroke-linejoin="round"  d="M461.6 611.9C461.7 615.5 462 627.8 462.2 633.8C462.4 639.7 460.8 645.4 462.7 647.8C464.5 650.3 469.6 648.3 473.1 648.4C476.7 648.6 482.2 648.7 484.1 648.8"/>
<path fill="#f8f4f5"  d="M443.4 602.5C444.5 601.2 451.1 604.9 452.8 605.6C454.5 606.3 459.8 606.7 460.6 609.5C461.5 612.3 461.6 630.7 461.4 633.8C461.2 636.8 460.1 639.4 459.1 640C458 640.6 452.7 640.6 451.2 640C449.8 639.4 445.9 635.9 445 633.8C444.1 631.6 442.8 621.2 442.7 618.1C442.5 615 442.4 603.8 443.4 602.5Z"/>
<path fill="none" stroke="#4a4f5e" stroke-width="2.8" stroke-linecap="round" stroke-linejoin="round"  d="M444.2 602.5C444.1 605.1 443.3 612.9 443.4 618.1C443.6 623.3 445 629.8 445 633.8C445 637.7 443.7 640.3 443.4 641.6"/>
<path fill="none" stroke="#3a4050" stroke-width="2.2" stroke-linecap="round" stroke-linejoin="round"  d="M452.8 607.2C452.7 610.1 451.8 619.4 452 624.4C452.3 629.3 454 634.8 454.4 636.9"/>
<path  fill="#8a8e9a" d="M447.3 605.6C445.3 609 445.1 617.8 446.9 621.2C448.9 617.9 449.2 609.1 447.3 605.6Z"/>
<path fill="#2f3542"  d="M434.1 648.6C434.3 648 440 644 441.1 643.1C442.2 642.3 444.3 640.2 445 640C445.7 639.8 448.2 640.6 448.4 641.6C448.7 642.5 447.8 648.9 447.3 649.4C446.8 649.8 444.3 646.2 443.4 646.2C442.6 646.2 439.7 649.1 438.8 649.4C437.8 649.6 433.8 649.2 434.1 648.6Z"/>
<path fill="#2a303c"  d="M448.4 649.4C448.1 648.6 448.8 642.8 449.7 641.6C450.6 640.3 456.4 637 457.5 636.9C458.6 636.7 460.1 638.9 460.6 640C461.1 641.1 462.7 647.5 462.5 647.8C462.3 648.2 460 643.3 459.1 643.4C458.1 643.6 453.9 648.8 452.8 649.4C451.8 650 448.8 650.2 448.4 649.4Z"/>
<path fill="#fefdfd" stroke="#c8c0c4" stroke-width="0.6" d="M457.5 560.3C458 558.6 460.5 557.1 461.4 557.5C462.3 557.9 465.4 562.1 466.9 564.2C468.4 566.4 474.7 576.2 476.2 579.1C477.8 582 482.3 591.1 482.8 593.1C483.3 595.2 482.2 599.2 480.9 599.4C479.7 599.6 472 595.4 470 595C468 594.6 461.8 596.6 460.6 595C459.4 593.4 458.3 581.1 457.8 579.1C457.3 577 456 576.2 455.9 574.4C455.9 572.5 457 562 457.5 560.3Z"/>
<path  fill="#7a8090" d="M473.9 582.2C473.4 584.8 475.6 590.1 477.8 591.6C478.3 588.9 476.1 583.7 473.9 582.2Z"/>
<path  fill="#9a9ea8" d="M468.4 585.3C468.2 587.7 470.4 592.5 472.3 593.9C472.6 591.5 470.4 586.7 468.4 585.3Z"/>
<path fill="#fefcfc" stroke="#9a6068" stroke-width="1.5" d="M457.8 563.4C457 563.1 450.3 570.1 448.4 571.2C446.5 572.4 440.8 574.5 438.8 575C436.7 575.5 429.2 575.9 428.1 576.2C427 576.6 426.8 578.1 427.8 578.4C428.9 578.8 436.6 579.4 438.8 579.4C440.9 579.3 447.9 578.2 449.7 577.8C451.4 577.4 455.4 576.4 456.2 575C457.1 573.6 458.6 563.8 457.8 563.4Z"/>
<path fill="#2a303c"  d="M451.2 599.4C451.6 598.1 454.1 596.1 455.9 595C457.8 593.9 465.2 590.3 466.9 590.3C468.6 590.3 468.5 594.3 470.3 594.7C472.1 595.1 480.7 593 482.5 593.9C484.3 594.8 485.6 600.9 485.6 602.5C485.6 604.1 485.4 606.7 482.5 607.5C479.6 608.3 464.1 609.3 460.6 609.1C457.2 608.8 453.9 606.8 452.8 605.6C451.7 604.5 450.9 600.6 451.2 599.4Z"/>
<path fill="#57313a"  d="M448.9 544.7C449.1 543.1 450.2 541.3 451.2 540.8C452.3 540.2 456.2 539.7 457.5 540C458.8 540.3 461.4 541.8 462.2 543.1C463 544.4 463.8 549.1 464.5 550.9C465.3 552.8 467.4 556.7 468.4 558.8C469.4 560.8 472.4 566.4 473.1 568.1C473.9 569.9 475.1 573 475 573.6C474.9 574.2 473.3 574.7 472.3 573.6C471.4 572.5 468.2 566.1 466.9 564.2C465.6 562.3 462.5 558 461.4 557.5C460.3 557 458.8 559 457.8 560.3C456.8 561.6 454 568.3 453.1 568.4C452.3 568.6 451 563.6 450.6 561.9C450.2 560.2 449.9 556.1 449.7 554.1C449.5 552.1 448.7 546.2 448.9 544.7Z"/>
<path fill="#f3ecee"  d="M450.9 544.7C451.2 543.7 453.6 543.5 454.1 543.9C454.6 544.4 455.3 547.5 455.3 548.6C455.3 549.7 454.5 552.8 454.1 553.3C453.6 553.7 451.9 553.5 451.6 552.5C451.2 551.5 450.6 545.7 450.9 544.7Z"/>
<path fill="#fbfafa"  d="M236.6 375L271.7 365.6L276.9 385.9L241.6 396.9Z"/>
<path fill="#46283a"  d="M245.2 370.3L251.4 358.6L261.6 365.2L272.5 364.1L273.8 369.1L269.4 366.6L247.5 372.2Z"/>
<path fill="#5f3240"  d="M273.8 369.1L285 379.7L283.4 383.6L271.2 394.1L276.9 385.9Z"/>
<path fill="#5a3040"  d="M234.2 395.9L238.1 383.6L241.6 394.4Z"/>
<path  fill="#6a5060" d="M236.9 375.8C235.3 376.2 235 377.9 236.2 378.9C237.8 378.5 238.1 376.8 236.9 375.8Z"/>
<path fill="none" stroke="#5a4858" stroke-width="1.2" stroke-linecap="round" stroke-linejoin="round"  d="M236.6 375L271.7 365.6"/>
<path fill="none" stroke="#94565e" stroke-width="1.5" stroke-linecap="round" stroke-linejoin="round" opacity="0.85" d="M248.3 375.9L267.8 371.2"/>
<path opacity="0.85" fill="#94565e" d="M249.8 379.7C252 380.7 256.9 379.6 258.4 377.8C256.2 376.8 251.4 377.9 249.8 379.7Z"/>
<path opacity="0.85" fill="#94565e" d="M245.9 383.8C247.2 384.8 249.9 384.3 250.6 382.8C249.3 381.7 246.7 382.2 245.9 383.8Z"/>
<path opacity="0.85" fill="#94565e" d="M262.3 383.8C264.2 384.7 268.1 383.8 269.4 382.2C267.5 381.2 263.6 382.1 262.3 383.8Z"/>
<path opacity="0.85" fill="#94565e" d="M265.5 387.7C267 388.8 270.5 388.2 271.7 386.7C270.1 385.6 266.6 386.1 265.5 387.7Z"/>
<path opacity="0.85" fill="#94565e" d="M255.3 394.7C258.1 395.5 264.2 393.9 266.2 391.9C263.5 391.1 257.4 392.7 255.3 394.7Z"/>
<path opacity="0.85" fill="#94565e" d="M260 397C261.3 398 263.9 397.3 264.7 395.9C263.4 395 260.8 395.6 260 397Z"/>
<path opacity="0.85" fill="#94565e" d="M249.1 398.6C251.6 400.9 259 403 262.3 402.3C259.8 400 252.4 397.9 249.1 398.6Z"/>
<path fill="none" stroke="url(#genv)" stroke-width="2" stroke-linecap="round" stroke-linejoin="round"  d="M285 380.5L293.1 409.4L253.8 422.8"/>
<path fill="none" stroke="#a85050" stroke-width="1.6" stroke-linecap="round" stroke-linejoin="round"  d="M239.7 410.6C240.1 412 241.1 416.4 242 418.8C243 421.1 244.8 423.7 245.3 424.7"/>
<path fill="#a8403c"  d="M209.2 451.2C208.7 450.2 213.9 429 214.7 428.9C215.5 428.9 225.1 449.2 224.8 450.3C224.6 451.4 209.7 452.3 209.2 451.2Z"/>
<rect x="212.3" y="443.8" width="7.8" height="4.7" rx="1.6" fill="#e8a8a0"/>
<path fill="#c98580"  d="M200.6 432.5C201.2 432.2 206.1 432.4 206.9 432.8C207.6 433.2 206.7 435.1 206.1 435.3C205.5 435.6 202.9 435.1 202.2 434.7C201.5 434.3 200 432.8 200.6 432.5Z"/>
<path fill="#c98580"  d="M223.3 434.4C223.8 433.8 227.2 432.6 228 432.8C228.7 433 229.2 435.4 228.8 435.9C228.3 436.5 225.1 437.4 224.4 437.2C223.6 437 222.8 435 223.3 434.4Z"/>
<path  fill="#c98580" d="M228.8 444.4C230 446.5 233.9 447.2 235.8 445.6C234.6 443.5 230.6 442.8 228.8 444.4Z"/>
<path  fill="#c98580" d="M228.8 450.3C229.8 452.2 233.3 452.9 235 451.6C234 449.6 230.5 448.9 228.8 450.3Z"/>
<path  fill="#c98580" d="M207.7 411.7C209.4 412.8 212.9 411.9 213.9 410.2C212.2 409.1 208.7 410 207.7 411.7Z"/>
<path  fill="#c98580" d="M193.6 426.6C195.4 426.6 197.6 424.4 197.5 422.7C195.7 422.6 193.5 424.8 193.6 426.6Z"/>
<path  fill="#c98580" d="M184.2 440.6C186 440.3 187.8 437.7 187.3 435.9C185.6 436.2 183.8 438.9 184.2 440.6Z"/>
<path  fill="#c98580" d="M181.9 456.2C181 457.7 181.8 460.5 183.4 461.2C184.4 459.8 183.5 457 181.9 456.2Z"/>
<path  fill="#c98580" d="M229.5 421.1C229.2 422.8 230.9 425 232.7 425C233 423.3 231.2 421.1 229.5 421.1Z"/>
<path  fill="#c98580" d="M206.1 459.4C208.8 460.2 214.5 458.4 216.2 456.2C213.6 455.4 207.9 457.2 206.1 459.4Z"/>
<path  fill="#c98580" d="M231.9 457.8C233.3 459.2 236.8 459 238.1 457.5C236.7 456.1 233.2 456.3 231.9 457.8Z"/>
<circle cx="222.5" cy="460.3" r="1.8" fill="#c05850"/>
<path fill="none" stroke="url(#garr)" stroke-width="1.9" stroke-linecap="round" stroke-linejoin="round"  d="M303.2 408.6C306.7 409.2 318.6 410.9 324 412.5C329.4 414.1 331.1 415.3 335.6 418.4C340.1 421.5 346.6 426.6 351.2 431C355.9 435.4 360.1 439.8 363.8 445C367.4 450.2 371.3 458.9 373 462C374.7 465.1 374 463.2 374.2 463.5"/>
<path fill="#a85252"  d="M301.9 408.8L308.4 405L306.9 408.8L307.7 414.1Z"/>
<path fill="none" stroke="#e08878" stroke-width="1.8" stroke-linecap="round" stroke-linejoin="round"  d="M256.1 432.8C256.9 433.1 260.1 433.6 260.8 434.7C261.5 435.7 261.1 438.1 260.3 439.1C259.6 440 256.9 440.1 256.2 440.3"/>
<path  fill="#c8a0a0" d="M322.5 382C323.5 383.5 326.6 383.9 328 382.8C327 381.3 323.9 380.9 322.5 382Z"/>
<path  fill="#d08078" d="M313.9 427.3C313.6 429.4 315.8 432.9 317.8 433.6C318.1 431.5 315.9 428 313.9 427.3Z"/>
<path  fill="#d08078" d="M306.9 437.5C308.8 438.4 312.7 437.3 313.9 435.6C312 434.8 308.1 435.8 306.9 437.5Z"/>
<path  fill="#d87060" d="M339.7 439.1C341.6 438.9 343.7 436.3 343.6 434.4C341.7 434.6 339.5 437.2 339.7 439.1Z"/>
<circle cx="347.5" cy="389.8" r="2" fill="#5a3040"/>
<path fill="none" stroke="#dc706a" stroke-width="2.3" stroke-linecap="round" stroke-linejoin="round"  d="M271.2 448.4C271.6 447 272.1 441.7 273.1 440C274.2 438.3 275.4 438.3 277.5 438.1C279.6 437.9 284.3 438.6 285.6 438.8"/>
<path fill="none" stroke="#dc706a" stroke-width="2.3" stroke-linecap="round" stroke-linejoin="round"  d="M293.9 441.9C294.5 442.1 297.2 441.8 297.5 443.4C297.8 445.1 295.9 450.2 295.6 451.6"/>
<path fill="none" stroke="#dc706a" stroke-width="2.3" stroke-linecap="round" stroke-linejoin="round"  d="M269.7 456.7C269.9 457.2 269.6 458.9 271.2 459.8C272.9 460.8 278 462.1 279.4 462.5"/>
<path fill="none" stroke="#dc706a" stroke-width="2.3" stroke-linecap="round" stroke-linejoin="round"  d="M284.1 464.1C285.3 464.2 289.9 465.8 291.6 464.7C293.2 463.6 293.6 458.7 294.1 457.5"/>
<path fill="#d4625c"  d="M278.3 445.8C279.3 444.8 289.6 444.1 290.8 445C291.9 445.9 292.9 455.2 291.9 456.2C290.9 457.3 280.2 458.1 279.1 457.2C277.9 456.3 277.3 446.8 278.3 445.8Z"/>
<circle cx="284.5" cy="452.8" r="1.6" fill="#f6e6e4"/>
<path fill="none" stroke="#e08878" stroke-width="1.5" stroke-linecap="round" stroke-linejoin="round"  d="M255.9 432.8C256.7 433.2 259.6 433.8 260.3 434.8C261 435.9 260.7 438.2 260 439.1C259.3 440 256.9 440.1 256.2 440.3"/>
<path fill="none" stroke="#e14a3d" stroke-width="1.7" stroke-linecap="round" stroke-linejoin="round"  d="M234.7 483.1C234.8 481.8 234.5 477.5 235.6 475C236.8 472.5 238.8 469.7 241.6 468C244.4 466.2 248.6 464.9 252.5 464.5C256.4 464.1 260.8 464.3 265 465.6C269.2 467 274 469.7 277.5 472.7C281 475.7 284.5 480.2 286.1 483.6C287.7 487 287.5 490.2 286.9 493C286.3 495.7 284.3 498.2 282.5 500C280.7 501.8 277.3 503.3 276.2 503.9"/>
<path fill="none" stroke="#e14a3d" stroke-width="1.7" stroke-linecap="round" stroke-linejoin="round"  d="M233.8 487.5C235.1 488.4 238.4 490.8 241.6 493C244.7 495.1 248.8 498.5 252.5 500.3C256.2 502.2 261.9 503.4 263.8 504.1"/>
<path fill="#e2443a"  d="M254.8 486.7C254.9 485.6 255.8 481.3 256.4 480.5C257 479.6 260.4 477.8 261.1 478.1C261.8 478.4 262.7 483.4 263.4 483.6C264.1 483.8 267.2 479.5 268.1 479.7C269.1 479.9 272.6 484.7 272.8 485.9C273 487.2 271.2 491.9 270.5 492.2C269.7 492.5 266.2 488.9 265 489.1C263.8 489.2 259.7 493.2 258.8 493.4C257.8 493.7 256 492.1 255.6 491.4C255.2 490.7 254.8 487.8 254.8 486.7Z"/>
<path fill="#fbeeea"  d="M265 485.2C265 484.3 267.5 481.1 268.1 481.2C268.7 481.4 270.9 485.9 270.9 486.7C271 487.6 269 490 268.4 489.8C267.8 489.7 265 486 265 485.2Z"/>
<path fill="#f5b0a0"  d="M272.8 495.3L276.7 492.5L280.6 495L276.7 497.7Z"/>
<path  fill="#f0a090" d="M246.2 471.1C246.8 472.7 249.6 474 251.2 473.4C250.7 471.8 247.9 470.5 246.2 471.1Z"/>
<path  fill="#f0a090" d="M276.7 489.1C277.2 490.7 279.8 492 281.4 491.4C280.9 489.8 278.3 488.5 276.7 489.1Z"/>
<path  fill="#ea6a5a" d="M311.9 473.4C314 473.5 317.1 470.9 317.3 468.8C315.2 468.7 312.1 471.3 311.9 473.4Z"/>
<path  fill="#ea6a5a" d="M304.1 493.8C304.6 495.9 308.1 498.6 310.3 498.4C309.8 496.3 306.3 493.6 304.1 493.8Z"/>
<path  fill="#ea6a5a" d="M318.1 506.6C319.7 508.4 324.5 509.5 326.7 508.6C325.2 506.7 320.3 505.6 318.1 506.6Z"/>
<path  fill="#ea6a5a" d="M333 511.7C335 512.8 339.3 511.9 340.8 510.2C338.8 509.1 334.4 510 333 511.7Z"/>
<path fill="#fbf8f8"  d="M332.2 477.5C330 477.2 327.1 472.5 325.2 470C323.2 467.5 318.8 461.7 317.8 459.1C316.8 456.4 317 452 317.5 450C318 448 320 444.9 321.6 443.8C323.1 442.6 327 441.6 329.1 441.6C331.1 441.6 335.2 442.5 336.9 443.8C338.6 445 341.1 449 341.9 451.2C342.6 453.5 342.5 458.1 342.5 460.9C342.5 463.8 342.9 470.1 341.6 472.3C340.2 474.6 334.4 477.8 332.2 477.5Z"/>
<path fill="none" stroke="#d9412f" stroke-width="2.2" stroke-linecap="round" stroke-linejoin="round"  d="M332.2 477.8C330.9 476.5 326.9 473.1 324.4 470C321.8 466.9 318.2 462.4 316.9 459.1C315.6 455.7 315.8 452.3 316.6 449.7C317.3 447.1 319.2 444.9 321.2 443.4C323.3 442 326.5 441.1 329.1 441.1C331.7 441.1 334.7 441.7 336.9 443.4C339.1 445.1 341.3 448.4 342.3 451.2C343.4 454.1 343.4 457.1 343.3 460.6C343.2 464.1 342.1 470.4 341.9 472.3"/>
<path fill="#d8463a"  d="M332.2 478.1C332.4 476.9 335.7 476 336.9 475.3C338 474.6 341.1 471.4 341.9 472C342.6 472.7 343.3 479.2 343.1 480.9C342.9 482.6 340.9 486 340 486.6C339.1 487.1 336.2 486.8 335.3 485.8C334.4 484.8 332 479.3 332.2 478.1Z"/>
<path fill="none" stroke="#d9412f" stroke-width="1.4" stroke-linecap="round" stroke-linejoin="round"  d="M327.5 463C328.2 463.6 330.6 465.4 331.4 466.9C332.2 468.4 332.3 471 332.5 471.9"/>
<path fill="none" stroke="#d9412f" stroke-width="1.4" stroke-linecap="round" stroke-linejoin="round"  d="M335.6 460.6C335.4 461.7 334.4 465.2 334.1 466.9C333.8 468.6 333.8 470.1 333.8 470.8"/>
<path  fill="#d87068" d="M315 427.8C314.5 429.7 316.3 432.7 318.1 433.3C318.6 431.4 316.8 428.4 315 427.8Z"/>
<path  fill="#e07a70" d="M306.4 437.2C308.1 438.1 311.6 437.2 312.7 435.6C311 434.7 307.5 435.6 306.4 437.2Z"/>
<path  fill="#c86058" d="M340 438.8C341.9 438.9 344.1 436.7 343.9 434.8C342 434.7 339.8 436.9 340 438.8Z"/>
<path  fill="#e86a5a" d="M312.7 473.1C314.6 473.4 317.2 471.2 317.3 469.2C315.4 469 312.8 471.2 312.7 473.1Z"/>
<path  fill="#e8908a" d="M347.8 461.4C349.1 462.9 352.6 463.2 354.1 461.9C352.8 460.3 349.3 460.1 347.8 461.4Z"/>
<path  fill="#ec6a58" d="M304.1 493.4C304.6 495.5 308.1 498.1 310.3 498.1C309.7 496 306.2 493.4 304.1 493.4Z"/>
<path  fill="#ec6a58" d="M318.9 506.7C320.3 508.5 324.7 509.5 326.7 508.4C325.3 506.7 320.9 505.7 318.9 506.7Z"/>
<path  fill="#ec7868" d="M333.8 511.4C335.5 512.6 339.5 512 340.8 510.3C339 509.1 335.1 509.7 333.8 511.4Z"/>
<path fill="#dc7870"  d="M351.7 475C351.7 474.4 355.2 473.7 356.4 473.9C357.7 474.1 361.1 475.9 361.1 476.6C361.1 477.2 357.7 479 356.4 478.8C355.2 478.5 351.7 475.6 351.7 475Z"/>
<circle cx="354.1" cy="506.7" r="3" fill="none" stroke="#e2483c" stroke-width="1.2"/>
<path fill="none" stroke="#8a5058" stroke-width="2.2" stroke-linecap="round" stroke-linejoin="round"  d="M367.7 403.6L373.1 396.6L378.6 399.7"/>
<path fill="none" stroke="#6a3a48" stroke-width="2.2" stroke-linecap="round" stroke-linejoin="round"  d="M385.6 404.7L401.2 413.1L396.6 423.1"/>
<path fill="none" stroke="#7d3c44" stroke-width="2.4" stroke-linecap="round" stroke-linejoin="round"  d="M360.9 412.5L355.3 425.5L375.5 438"/>
<path fill="none" stroke="#9a5a5c" stroke-width="1.6" stroke-linecap="round" stroke-linejoin="round"  d="M380.2 440.3L384.1 441.2L389.1 434.8"/>
<path fill="none" stroke="#8a444a" stroke-width="3.6" stroke-linecap="round" stroke-linejoin="round"  d="M360.3 421.6L364.5 411.2"/>
<path fill="none" stroke="#94484c" stroke-width="4.2" stroke-linecap="round" stroke-linejoin="round"  d="M365.9 425L370.9 414.7"/>
<path fill="none" stroke="#7a3840" stroke-width="5.2" stroke-linecap="round" stroke-linejoin="round"  d="M372.5 429.4L380.2 411.9"/>
<path fill="none" stroke="#8a4448" stroke-width="4.8" stroke-linecap="round" stroke-linejoin="round"  d="M381.9 434.4L388.8 417.5"/>
<path  fill="#ead8d8" d="M389.1 422.8C391.1 422.2 392.3 419 391.2 417.2C389.2 417.8 388 421 389.1 422.8Z"/>
<circle cx="372.5" cy="443.4" r="2.5" fill="#b8605e"/>
<path fill="none" stroke="#b8605e" stroke-width="1.4" stroke-linecap="round" stroke-linejoin="round"  d="M373.1 445C373.4 446.2 374.3 449.8 375 452C375.7 454.2 377.1 457.2 377.5 458.3"/>
<circle cx="359.8" cy="452" r="2.7" fill="#c8645e"/>
<path  fill="#d86a5a" d="M339.5 438.8C341.5 439 343.7 436.8 343.4 434.8C341.5 434.6 339.3 436.8 339.5 438.8Z"/>
<path  fill="#f0a898" d="M347.3 461.4C348.9 462.7 352.4 462.2 353.6 460.6C352 459.4 348.5 459.8 347.3 461.4Z"/>
<path fill="#e07a70"  d="M352 475.9C352.1 475.3 355.5 473.8 356.7 473.9C358 474 361.5 476.2 361.4 476.9C361.3 477.5 357.5 478.9 356.2 478.8C355 478.6 352 476.6 352 475.9Z"/>
<path fill="#fbf8f8"  d="M398.9 453.6L408.3 442.2L419.4 465L402 461.4Z"/>
<path fill="none" stroke="#8c4a4c" stroke-width="1.8" stroke-linecap="round" stroke-linejoin="round"  d="M398.9 453.6L408.3 442.2L419.4 465L402 461.4L398.9 453.6"/>
<path fill="none" stroke="#8c4a4c" stroke-width="1.2" stroke-linecap="round" stroke-linejoin="round"  d="M408.3 442.2L405.6 455.2L419.4 465"/>
<path fill="#7a3a3e"  d="M398.9 453.6L405.6 451.2L405.6 455.6L402 461.4Z"/>
<circle cx="427" cy="443.1" r="2.8" fill="#5a3540"/>
<circle cx="479.4" cy="468.1" r="2.2" fill="#5a6270"/>
<path  fill="#d0b0b0" d="M322.3 381.7C323.1 383.1 325.7 383.7 327 382.8C326.3 381.4 323.6 380.8 322.3 381.7Z"/>
<path fill="none" stroke="#6a5660" stroke-width="2.4" stroke-linecap="round" stroke-linejoin="round"  d="M450.9 467.5L442.2 473.1L446.9 483.8L461.4 477.5L462.5 471.9"/>
<path  fill="#9a8a92" d="M445.8 473.4C445 475.5 446.5 479.5 448.4 480.6C449.2 478.5 447.7 474.5 445.8 473.4Z"/>
<path fill="#6a5660"  d="M449.4 473.4L452 471.9L454.4 475.8L456.7 460.9L463 465.3L454.7 479.7Z"/>
<ellipse cx="380.9" cy="477.3" rx="16.4" ry="13.2" fill="none" stroke="#b8504c" stroke-width="1.7" transform="rotate(-8 380.9 477.3)"/>
<path fill="#b8463f" d="M382.8 482Q388.4 476.7 387.5 469.1Q382 474.4 382.8 482Z"/>
<path fill="none" stroke="#b8504c" stroke-width="1.8" stroke-linecap="round" stroke-linejoin="round"  d="M397.7 481.2C400.3 481.7 408.5 483.2 413.8 483.9C419 484.6 424.8 485.4 429.4 485.3C433.9 485.2 439.1 483.5 441.1 483.1"/>
<circle cx="440.6" cy="483.1" r="2.4" fill="#c0504c"/>
<path fill="none" stroke="#b8504c" stroke-width="1.8" stroke-linecap="round" stroke-linejoin="round"  d="M391.1 491.4C392 493.4 395.1 498.6 396.6 503.1C398 507.7 399.2 516.1 399.7 518.8"/>
<path fill="#b8463f"  d="M396.2 519.5L399.7 522.2L403.1 520.3L400 526.6Z"/>
<path  fill="#b8605e" d="M374.7 450C374 452.4 375.8 457.2 377.8 458.6C378.5 456.2 376.7 451.4 374.7 450Z"/>
<path fill="#7a3a3e"  d="M414.5 509.1C414.8 508.2 420.3 506.1 420 505C419.7 503.9 410.4 496.2 410.6 496.1C410.9 496 421.6 503.3 423.1 503.9C424.7 504.6 428.1 503.8 429.4 503.9C430.7 504 437.2 505.8 438.8 505.6C440.3 505.4 446.9 501.5 448.1 501.6C449.3 501.6 452.9 505.4 453.1 506.2C453.4 507.1 452.4 510.3 451.2 511.2C450.1 512.2 440.3 516.9 438.8 517.5C437.2 518.1 433.4 518.9 432.5 518.8C431.6 518.6 429.1 515.9 427.8 515.6C426.5 515.3 418 515.5 416.9 515C415.8 514.5 414.3 509.9 414.5 509.1Z"/>
<path fill="#f6efef"  d="M426.2 509.4C426.6 508.8 431 506.7 432.5 506.6C434 506.4 440.3 507.5 441.1 508.1C441.9 508.7 441 511.8 440.3 512.5C439.6 513.2 435.2 515.3 434.1 515.3C433 515.3 430.2 513.1 429.4 512.5C428.6 511.9 425.9 510 426.2 509.4Z"/>
<path  fill="#7a3a3e" d="M429.4 510.6C430.9 511.4 434 510.6 434.8 509.1C433.3 508.3 430.2 509.1 429.4 510.6Z"/>
<path fill="none" stroke="#c0544e" stroke-width="2" stroke-linecap="round" stroke-linejoin="round"  d="M413 531.2C411.7 530.9 407.6 528.5 405.2 528.9C402.7 529.3 399.4 531.6 398.1 533.6C396.8 535.5 396.7 538.6 397.3 540.6C398 542.6 400.3 544.7 402 545.6C403.7 546.5 406.6 546 407.5 546.1"/>
<path fill="#c8645c"  d="M411.4 534.4C410.8 534.2 406.7 534.7 405.6 535.6C404.6 536.6 402.2 542 402.5 542.5C402.8 543 406.9 540.9 407.8 540.3C408.8 539.7 410.2 538.2 410.6 537.5C411 536.8 412 534.6 411.4 534.4Z"/>
<circle cx="443.9" cy="491.1" r="2" fill="#a06a6a"/>
<circle cx="464.5" cy="509.7" r="1.7" fill="#8a7078"/>
<circle cx="438.8" cy="525.3" r="2.5" fill="#9a5a5c"/>
<circle cx="388.3" cy="534.4" r="2.3" fill="#c8605a"/>
<path fill="none" stroke="#c07070" stroke-width="1.4" stroke-linecap="round" stroke-linejoin="round"  d="M416.9 488.3C417.2 488.7 418.8 490.3 418.8 490.9C418.8 491.6 417.2 492 416.9 492.2"/>
<path  fill="#7a8090" d="M484.1 473.4C484.1 476 487.1 480.4 489.5 481.2C489.5 478.7 486.4 474.3 484.1 473.4Z"/>
<path  fill="#7a8090" d="M491.9 487.5C490.7 489 491.4 492.1 493.1 493C494.3 491.4 493.6 488.4 491.9 487.5Z"/>
<path  fill="#7a8090" d="M476.2 510.9C479.7 510.6 486.7 506.7 488.8 503.9C485.3 504.2 478.3 508.1 476.2 510.9Z"/>
<path  fill="#c0a8a8" d="M449.7 518.8C451.4 519.7 454.9 518.8 455.9 517.2C454.2 516.3 450.7 517.1 449.7 518.8Z"/>
<path  fill="#e07a70" d="M376.2 521.9C377.1 524.3 381.5 527.8 384.1 528.1C383.2 525.7 378.8 522.2 376.2 521.9Z"/>
<path  fill="#e07a70" d="M420.8 539.8C423.1 539.7 427.1 536.6 427.8 534.4C425.5 534.5 421.5 537.6 420.8 539.8Z"/>
<path  fill="#e09088" d="M413 550C411.7 551.7 412.6 554.7 414.5 555.5C415.8 553.8 414.9 550.7 413 550Z"/>
<path  fill="#ec5a48" d="M320 507C321 508.8 324.5 509.6 326.2 508.6C325.2 506.9 321.7 506 320 507Z"/>
<path  fill="#ec7868" d="M333.3 510.9C335 512.2 338.9 511.8 340.3 510.2C338.6 508.9 334.7 509.3 333.3 510.9Z"/>
<path  fill="#f0a898" d="M347.3 460.9C348.5 462.5 352 463 353.6 461.7C352.4 460.1 348.9 459.7 347.3 460.9Z"/>
</g>

</svg>
<h1 class="title">工作完成情况</h1>
<p class="sub"><span style="left:170px"><b style="width:29px">W</b>hat</span> <span style="left:254px"><b style="width:27.5px">W</b>e</span> <span style="left:317px"><b style="width:22.5px">D</b>o</span></p>
<h2 class="h2">工作完成情况</h2>
<p class="body">此处添加详细文本描述，建议与标题相关并符合整体语言风格，语言描述尽量简洁生动。</p>
</body>
</html>
